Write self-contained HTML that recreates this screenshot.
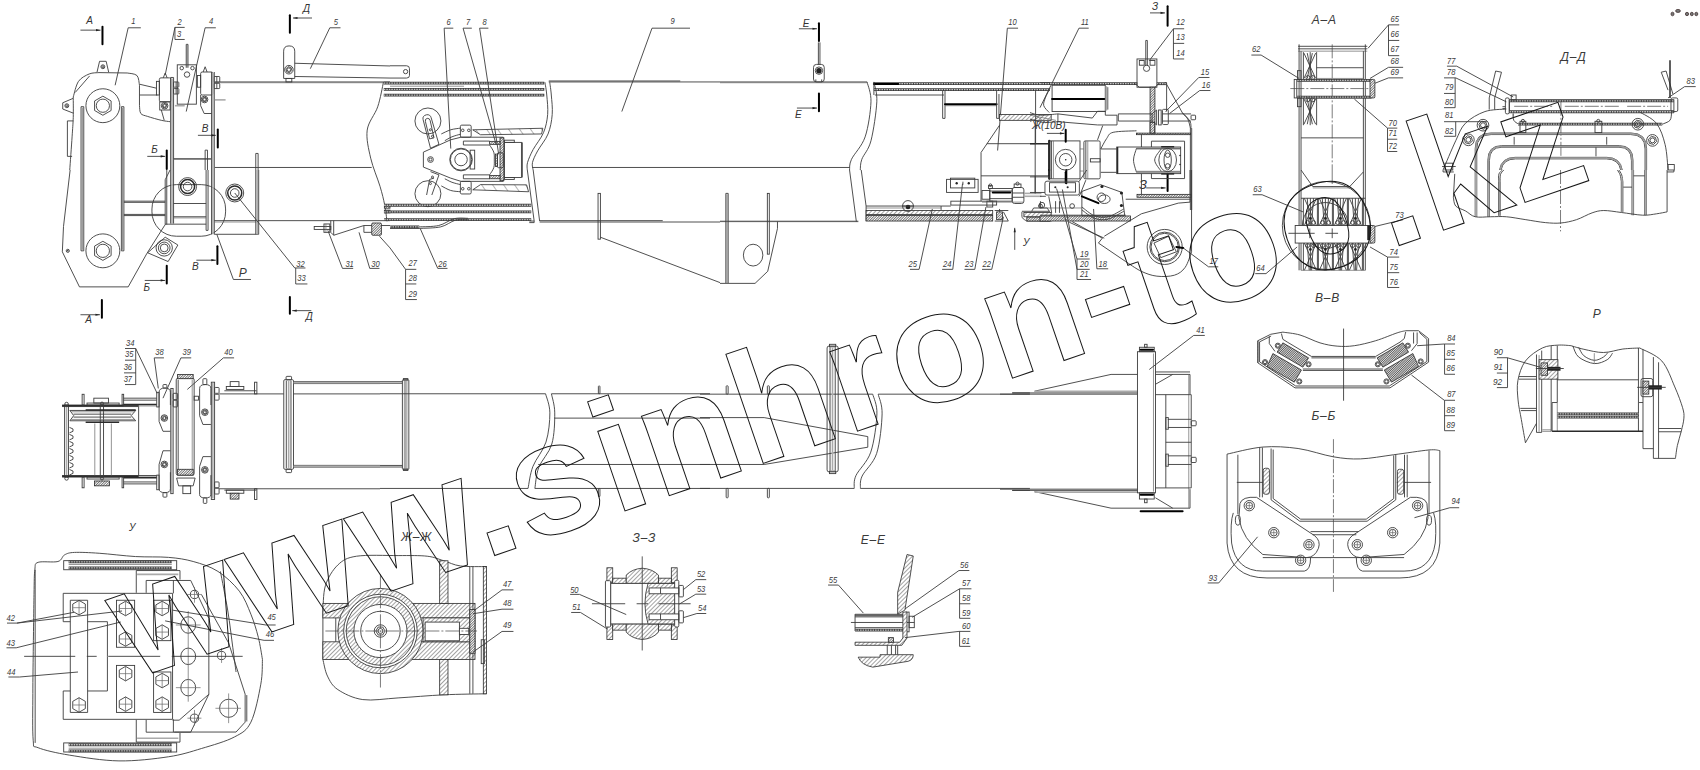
<!DOCTYPE html>
<html><head><meta charset="utf-8"><title>Стрела</title>
<style>
html,body{margin:0;padding:0;background:#fff;}
svg{display:block;}
text{font-family:"Liberation Sans",sans-serif;}
.wm{fill:none;stroke:#141414;stroke-width:1;font-weight:bold;letter-spacing:2.4px;}
.l{fill:none;stroke:#3c3c3c;stroke-width:0.9;}
.m{fill:none;stroke:#2a2a2a;stroke-width:1.5;}
.t{fill:none;stroke:#666;stroke-width:0.7;}
.g{fill:none;stroke:#aaa;stroke-width:1.6;}
.g2{fill:none;stroke:#666;stroke-width:2.6;}
.bo{fill:none;stroke:#3a3a3a;stroke-width:2.8;}
.bi{fill:none;stroke:#c4c4c4;stroke-width:1.3;stroke-dasharray:1.6 0.9;}
.cl{fill:none;stroke:#444;stroke-width:0.7;stroke-dasharray:14 2 2 2;}
.cl2{fill:none;stroke:#333;stroke-width:0.8;}
.dt{fill:#777;stroke:#433;stroke-width:0.8;}
.k{fill:none;stroke:#000;stroke-width:2;stroke-linecap:round;}
.f{fill:#222;stroke:none;}
.w{fill:#fff;stroke:#3c3c3c;stroke-width:0.9;}
.h{fill:url(#ht);stroke:#2a2a2a;stroke-width:0.8;}
.hs{fill:url(#hs);stroke:#2a2a2a;stroke-width:0.8;}
.hx{fill:url(#hx);stroke:#2a2a2a;stroke-width:0.8;}
.g3{fill:none;stroke:#999;stroke-width:1.5;}
.hd{fill:url(#hd);stroke:#2a2a2a;stroke-width:0.8;}
.n{font-size:8.6px;font-style:italic;fill:#3a3a3a;}
.n2{font-size:9.4px;font-style:italic;fill:#3a3a3a;}
.s{font-size:10px;font-style:italic;fill:#333;}
.st{font-size:12px;font-style:italic;fill:#3a3a3a;letter-spacing:0.8px;}
.s2{font-size:13px;font-style:italic;fill:#333;}
</style></head><body>
<svg width="1700" height="770" viewBox="0 0 1700 770">
<defs>
<pattern id="ht" width="3" height="3" patternUnits="userSpaceOnUse" patternTransform="rotate(45)"><rect width="3" height="3" fill="#fff"/><line x1="0" y1="0" x2="0" y2="3" stroke="#333" stroke-width="0.9"/></pattern>
<pattern id="hd" width="1.8" height="1.8" patternUnits="userSpaceOnUse" patternTransform="rotate(45)"><rect width="1.8" height="1.8" fill="#fff"/><line x1="0" y1="0" x2="0" y2="1.8" stroke="#222" stroke-width="1.15"/></pattern>
<pattern id="hs" width="9" height="9" patternUnits="userSpaceOnUse" patternTransform="rotate(-35)"><rect width="9" height="9" fill="#fff"/><line x1="0" y1="0" x2="0" y2="9" stroke="#444" stroke-width="0.8"/></pattern>
<pattern id="hx" width="1.6" height="1.6" patternUnits="userSpaceOnUse" patternTransform="rotate(45)"><rect width="1.6" height="1.6" fill="#ddd"/><line x1="0" y1="0" x2="0" y2="1.6" stroke="#222" stroke-width="1.1"/></pattern>
</defs>
<rect width="1700" height="770" fill="#fff"/>
<text class="s" x="86.3" y="23.9" text-anchor="start">А</text>
<polyline class="l" points="80.45,30.13 100.52,30.13"/>
<polygon class="f" points="100.52,30.13 96.02,31.23 96.02,29.03"/>
<polyline class="k" points="102.47,26.82 102.47,44.35"/>
<text class="n" transform="translate(131.3,24.29) scale(0.88,1)">1</text>
<polyline class="l" points="140.84,27.79 128.18,27.79 115.13,85.26"/>
<text class="n" transform="translate(177.47,24.68) scale(0.88,1)">2</text>
<polyline class="l" points="184.68,27.4 174.94,27.4 165.19,74.94"/>
<polyline class="l" points="174.94,27.4 174.94,39.48 184.68,39.48"/>
<text class="n" transform="translate(176.88,36.56) scale(0.88,1)">3</text>
<text class="n" transform="translate(209.03,24.29) scale(0.88,1)">4</text>
<polyline class="l" points="215.84,27.79 205.13,27.79 186.23,111.56"/>
<text class="n" transform="translate(333.7,24.87) scale(0.88,1)">5</text>
<polyline class="l" points="340.52,27.79 329.81,27.79 310.32,68.7"/>
<polyline class="k" points="289.87,15.13 289.87,32.66"/>
<polyline class="l" points="312.0,18.0 293.0,18.0"/>
<polygon class="f" points="293.0,18.0 297.5,16.9 297.5,19.1"/>
<text class="s" x="303.0" y="12.0" text-anchor="start">Д</text>
<path class="l" d="M69.74,170.0C70.13,164.48 71.50,145.65 72.08,136.88C72.66,128.11 73.06,124.06 73.25,117.4C73.44,110.75 73.25,100.36 73.25,96.95"/>
<path class="l" d="M73.25,96.95C74.13,94.35 75.85,85.19 78.51,81.36C81.17,77.53 85.81,75.42 89.22,73.96C92.63,72.50 97.34,72.83 98.96,72.6"/>
<polyline class="l" points="75.19,92.47 89.61,75.91"/>
<polyline class="l" points="98.96,72.6 127.21,72.99"/>
<path class="l" d="M127.21,72.99C128.83,73.41 134.91,73.47 136.95,75.52C138.99,77.56 139.06,83.64 139.48,85.26"/>
<polyline class="l" points="139.48,85.26 139.48,105.71"/>
<path class="l" d="M139.48,105.71C139.71,107.01 139.48,111.72 140.84,113.51C142.20,115.30 144.25,115.30 147.66,116.43C151.07,117.56 157.57,119.44 161.3,120.32C165.03,121.20 168.60,121.46 170.06,121.69"/>
<polyline class="l" points="97.01,72.21 99.55,61.3 106.17,61.3 108.7,72.21"/>
<circle class="l" cx="102.86" cy="66.75" r="1.95"/>
<circle class="l" cx="102.86" cy="66.75" r="0.97"/>
<polyline class="l" points="73.25,98.31 62.73,102.79 62.73,109.03 73.25,113.12"/>
<circle class="l" cx="66.82" cy="105.71" r="1.95"/>
<circle class="l" cx="66.82" cy="105.71" r="0.97"/>
<circle class="l" cx="102.86" cy="105.71" r="16.95"/>
<polygon class="l" points="111.12,110.49 102.86,115.26 94.59,110.49 94.59,100.94 102.86,96.17 111.12,100.94"/>
<circle class="l" cx="102.86" cy="105.71" r="6.62"/>
<polyline class="l" points="81.04,170.0 81.04,106.69 83.77,106.69 83.77,170.0"/>
<polyline class="t" points="82.4,107.66 82.4,170.0"/>
<polyline class="l" points="121.36,170.0 121.36,106.69 123.9,106.69 123.9,170.0"/>
<polyline class="t" points="122.53,107.66 122.53,170.0"/>
<polyline class="l" points="73.25,120.91 67.4,120.91 67.4,156.36 72.08,156.36"/>
<polyline class="l" points="139.87,84.29 156.43,88.18"/>
<polyline class="l" points="139.87,95.0 157.4,95.0"/>
<rect class="l" x="156.43" y="81.36" width="2.92" height="13.64"/>
<rect class="l" x="159.35" y="77.86" width="11.69" height="23.96" rx="1.56"/>
<polyline class="l" points="163.25,77.86 165.19,72.99 167.14,77.86"/>
<rect class="l" x="159.74" y="101.82" width="10.32" height="8.18"/>
<circle class="l" cx="164.61" cy="105.71" r="3.31"/>
<polygon class="l" points="166.91,106.33 165.23,108.02 162.92,107.4 162.31,105.1 163.99,103.41 166.3,104.03"/>
<circle class="l" cx="164.61" cy="105.71" r="1.39"/>
<polyline class="l" points="161.3,110.0 164.22,120.32"/>
<polyline class="l" points="170.65,77.47 170.65,170.0"/>
<polyline class="l" points="173.57,77.47 173.57,170.0"/>
<polyline class="g" points="172.01,78.44 172.01,170.0"/>
<polyline class="l" points="170.65,77.47 173.57,77.47"/>
<rect class="l" x="173.57" y="81.95" width="5.26" height="5.26" rx="0.78"/>
<rect class="l" x="173.57" y="88.57" width="5.26" height="5.45" rx="0.78"/>
<polyline class="l" points="176.1,81.95 176.1,87.21"/>
<polyline class="l" points="176.1,88.57 176.1,94.03"/>
<rect class="l" x="177.27" y="64.81" width="19.09" height="39.35"/>
<circle class="l" cx="181.75" cy="68.12" r="1.75"/>
<circle class="l" cx="192.47" cy="68.12" r="1.75"/>
<circle class="l" cx="187.01" cy="74.55" r="2.73"/>
<polyline class="l" points="186.23,44.35 186.23,67.73"/>
<polyline class="l" points="187.99,44.35 187.99,67.73"/>
<polyline class="l" points="186.23,44.35 187.99,44.35"/>
<polyline class="t" points="187.01,44.94 187.01,67.73"/>
<polyline class="g" points="174.94,105.71 184.68,105.71"/>
<rect class="l" x="197.34" y="75.52" width="3.31" height="11.69"/>
<rect class="l" x="200.65" y="72.01" width="12.27" height="22.99" rx="1.56"/>
<polyline class="l" points="203.18,72.01 205.13,66.75 207.08,72.01"/>
<circle class="l" cx="204.55" cy="99.48" r="3.31"/>
<polygon class="l" points="206.85,100.1 205.16,101.78 202.86,101.17 202.24,98.86 203.93,97.18 206.23,97.79"/>
<circle class="l" cx="204.55" cy="99.48" r="1.39"/>
<polyline class="l" points="200.65,95.0 200.65,105.71 204.16,113.51 211.56,113.51"/>
<rect class="l" x="213.9" y="76.49" width="5.84" height="5.84" rx="0.78"/>
<rect class="l" x="213.9" y="83.31" width="5.84" height="5.26" rx="0.78"/>
<polyline class="l" points="216.82,76.49 216.82,82.34"/>
<polyline class="l" points="216.82,83.31 216.82,88.57"/>
<polyline class="l" points="211.56,72.01 211.56,170.0"/>
<polyline class="l" points="214.29,72.01 214.29,170.0"/>
<polyline class="g" points="212.92,72.6 212.92,170.0"/>
<polyline class="g" points="214.87,99.87 225.58,99.87"/>
<text class="s" x="201.82" y="132.01" text-anchor="start">В</text>
<polyline class="l" points="197.92,135.32 215.84,135.32"/>
<polygon class="f" points="215.84,135.32 211.34,136.42 211.34,134.22"/>
<polyline class="k" points="217.79,129.48 217.79,147.6"/>
<text class="s" x="151.17" y="153.44" text-anchor="start">Б</text>
<polyline class="l" points="147.27,156.36 165.19,156.36"/>
<polygon class="f" points="165.19,156.36 160.69,157.46 160.69,155.26"/>
<polyline class="k" points="166.75,150.52 166.75,169.03"/>
<polyline class="l" points="214.87,81.95 390.0,81.95"/>
<polyline class="t" points="214.87,82.73 390.0,82.73"/>
<polyline class="l" points="173.57,158.7 210.97,158.7"/>
<polyline class="t" points="173.57,159.48 210.97,159.48"/>
<polyline class="l" points="214.87,167.47 371.69,167.47"/>
<polyline class="l" points="205.13,170.0 205.13,150.13 207.47,150.13 207.47,170.0"/>
<polyline class="l" points="255.78,170.0 255.78,153.44 258.12,153.44 258.12,170.0"/>
<path class="l" d="M 283.64 78.44 L 283.64 51.17 Q 283.64 45.91 289.09 45.91 Q 294.74 45.91 294.74 51.17 L 294.74 78.44 Z"/>
<circle class="l" cx="288.9" cy="69.68" r="4.29"/>
<polygon class="l" points="291.88,70.47 289.69,72.66 286.71,71.86 285.92,68.88 288.1,66.69 291.08,67.49"/>
<circle class="l" cx="288.9" cy="69.68" r="1.8"/>
<rect class="l" x="285.97" y="78.44" width="5.84" height="3.51"/>
<polyline class="l" points="294.74,63.25 390.0,65.97"/>
<polyline class="l" points="294.74,76.49 390.0,78.05"/>
<path class="l" d="M383.5,82.0C382.53,86.13 380.42,98.78 377.7,106.8C374.98,114.82 368.37,121.53 367.2,130.1C366.03,138.67 368.57,148.83 370.7,158.2C372.83,167.57 377.67,178.50 380.0,186.3C382.33,194.10 383.53,199.17 384.7,205.0C385.87,210.83 386.62,218.58 387.0,221.3"/>
<polyline class="l" points="70.13,170.0 63.51,226.49 62.34,251.82 79.48,286.88 128.18,286.88 146.69,253.77 164.81,225.13"/>
<polyline class="l" points="165.19,225.13 165.19,179.74 170.06,170.0"/>
<circle class="l" cx="67.79" cy="250.84" r="1.56"/>
<circle class="f" cx="67.79" cy="250.84" r="0.78"/>
<polyline class="l" points="81.04,170.0 81.04,250.84 83.77,250.84 83.77,170.0"/>
<polyline class="t" points="82.4,170.0 82.4,249.87"/>
<polyline class="l" points="121.36,170.0 121.36,250.84 123.9,250.84 123.9,170.0"/>
<polyline class="t" points="122.53,170.0 122.53,249.87"/>
<circle class="l" cx="102.86" cy="250.84" r="16.95"/>
<polygon class="l" points="111.12,255.62 102.86,260.39 94.59,255.62 94.59,246.07 102.86,241.3 111.12,246.07"/>
<circle class="l" cx="102.86" cy="250.84" r="6.62"/>
<polyline class="l" points="123.9,201.17 165.19,201.17"/>
<polyline class="l" points="123.9,202.34 165.19,202.34"/>
<polyline class="l" points="123.9,214.42 165.19,214.42"/>
<polyline class="l" points="123.9,215.58 165.19,215.58"/>
<rect class="l" x="151.95" y="184.61" width="73.64" height="51.62" rx="24.35"/>
<polyline class="l" points="166.75,170.0 166.75,224.55"/>
<polyline class="l" points="170.65,170.0 170.65,223.57"/>
<polyline class="l" points="173.57,170.0 173.57,223.57"/>
<polyline class="g" points="172.01,170.0 172.01,223.57"/>
<polyline class="l" points="206.1,170.0 206.1,230.39 208.05,230.39 208.05,170.0"/>
<polyline class="l" points="211.56,170.0 211.56,234.29"/>
<polyline class="l" points="214.29,170.0 214.29,234.29"/>
<polyline class="g" points="212.92,170.0 212.92,234.29"/>
<polyline class="l" points="173.57,203.51 206.1,203.51"/>
<polyline class="l" points="173.57,216.75 206.1,216.75"/>
<polyline class="l" points="165.19,224.16 206.1,224.16"/>
<polyline class="t" points="173.57,217.92 206.1,217.92"/>
<circle class="l" cx="187.6" cy="186.56" r="8.96"/>
<circle class="m" cx="187.6" cy="186.56" r="7.01"/>
<circle class="l" cx="187.6" cy="186.56" r="4.29"/>
<circle class="l" cx="234.74" cy="192.99" r="8.96"/>
<circle class="m" cx="234.74" cy="192.99" r="7.01"/>
<circle class="l" cx="234.74" cy="192.99" r="4.29"/>
<polyline class="l" points="214.29,220.65 390.0,220.65"/>
<polyline class="t" points="214.29,222.01 256.75,222.01"/>
<polyline class="l" points="214.29,234.29 258.7,234.29"/>
<polyline class="l" points="255.78,170.0 255.78,234.29"/>
<polyline class="l" points="258.7,170.0 258.7,234.29"/>
<polyline class="g" points="257.14,170.0 257.14,234.29"/>
<polygon class="l" points="147.66,252.79 165.19,237.21 177.86,245.0 168.12,261.56"/>
<circle class="l" cx="164.22" cy="247.92" r="8.18"/>
<circle class="l" cx="164.22" cy="247.92" r="5.84"/>
<circle class="l" cx="164.22" cy="247.92" r="3.9"/>
<text class="s" x="192.08" y="270.32" text-anchor="start">В</text>
<polyline class="l" points="196.36,260.19 215.84,260.19"/>
<polygon class="f" points="215.84,260.19 211.34,261.29 211.34,259.09"/>
<polyline class="k" points="217.4,246.36 217.4,264.09"/>
<text class="s" x="143.38" y="290.78" text-anchor="start">Б</text>
<polyline class="l" points="144.74,280.45 165.19,280.45"/>
<polygon class="f" points="165.19,280.45 160.69,281.55 160.69,279.35"/>
<polyline class="k" points="166.75,265.84 166.75,283.57"/>
<text class="st" x="238.83" y="276.75" text-anchor="start">Р</text>
<polyline class="l" points="250.91,279.48 233.38,279.48 216.82,234.29"/>
<text class="n" transform="translate(296.3,267.01) scale(0.88,1)">32</text>
<polyline class="l" points="305.45,267.99 294.74,267.99 234.74,192.99"/>
<polyline class="l" points="295.71,267.99 295.71,283.96 307.4,283.96"/>
<text class="n" transform="translate(297.27,281.43) scale(0.88,1)">33</text>
<text class="n" transform="translate(345.39,267.01) scale(0.88,1)">31</text>
<polyline class="l" points="353.18,268.38 342.47,268.38 327.86,230.39"/>
<text class="n" transform="translate(371.3,267.01) scale(0.88,1)">30</text>
<polyline class="l" points="379.48,268.38 369.74,268.38 359.03,232.34"/>
<rect class="l" x="314.22" y="226.49" width="16.56" height="2.92"/>
<rect class="l" x="323.96" y="223.96" width="5.84" height="8.38"/>
<polyline class="t" points="325.91,223.96 325.91,232.34"/>
<polyline class="l" points="330.78,220.65 330.78,232.34 333.7,235.26 333.7,220.65"/>
<polyline class="l" points="333.7,235.26 363.9,225.52 390.0,225.52"/>
<polyline class="l" points="363.9,225.52 363.9,232.34 371.69,232.34"/>
<rect class="hd" x="371.69" y="222.99" width="9.74" height="12.27" rx="1.17"/>
<polyline class="l" points="379.48,236.23 390.0,247.92"/>
<polyline class="k" points="101.88,299.94 101.88,317.66"/>
<polyline class="l" points="80.45,314.74 99.94,314.74"/>
<polygon class="f" points="99.94,314.74 95.44,315.84 95.44,313.64"/>
<text class="s" x="85.32" y="322.53" text-anchor="start">А</text>
<polyline class="k" points="289.87,297.01 289.87,313.77"/>
<polyline class="l" points="311.3,310.65 292.21,310.65"/>
<polygon class="f" points="292.21,310.65 296.71,309.55 296.71,311.75"/>
<text class="s" x="305.84" y="319.61" text-anchor="start">Д</text>
<rect class="hd" x="384.35" y="205.06" width="5.65" height="3.12"/>
<rect class="hd" x="384.35" y="210.13" width="5.65" height="2.73"/>
<path class="l" d="M549.74,82.27C550.00,84.39 550.89,89.63 551.3,95.0C551.71,100.37 552.75,107.99 552.21,114.48C551.67,120.97 550.47,127.90 548.05,133.96C545.62,140.02 540.26,146.08 537.66,150.84C535.06,155.60 533.23,159.35 532.47,162.53C531.71,165.71 533.01,168.70 533.12,169.94"/>
<path class="l" d="M544.94,82.27C545.24,84.39 546.30,89.63 546.75,95.0C547.20,100.37 548.20,108.20 547.66,114.48C547.12,120.76 545.93,126.81 543.51,132.66C541.09,138.50 535.78,144.57 533.12,149.55C530.46,154.53 528.50,159.13 527.53,162.53C526.55,165.93 527.31,168.70 527.27,169.94"/>
<circle class="l" cx="427.92" cy="120.97" r="12.99"/>
<path class="l" d="M 423.12 119.68 Q 422.08 115.78 426.62 114.74 Q 430.13 114.22 431.17 117.73 L 438.96 144.35 L 430.52 148.25 Z"/>
<path class="l" d="M 425.45 121.62 Q 424.68 118.77 427.27 118.38 Q 429.61 118.12 430.13 120.45 L 434.03 137.86 L 429.61 138.9 Z"/>
<circle class="l" cx="430.39" cy="129.81" r="1.04"/>
<circle class="l" cx="432.47" cy="136.3" r="1.04"/>
<circle class="l" cx="427.92" cy="193.7" r="12.99"/>
<path class="l" d="M 430.52 171.62 L 438.96 174.87 L 431.82 195.0 M 434.03 178.12 L 429.61 179.42 L 426.62 195.0"/>
<circle class="l" cx="432.47" cy="177.08" r="1.04"/>
<circle class="l" cx="430.39" cy="183.57" r="1.04"/>
<polygon class="l" points="423.38,152.14 450.65,139.81 461.04,137.21 503.25,137.21 503.25,181.36 461.04,181.36 450.65,178.12 423.38,167.08"/>
<circle class="l" cx="430.52" cy="159.55" r="2.86"/>
<circle class="l" cx="430.52" cy="159.55" r="1.43"/>
<rect class="l" x="460.39" y="125.13" width="10.78" height="12.08" rx="1.3"/>
<circle class="l" cx="462.73" cy="130.32" r="1.3"/>
<circle class="l" cx="468.83" cy="130.32" r="1.3"/>
<rect class="l" x="460.39" y="181.36" width="10.78" height="12.6" rx="1.3"/>
<circle class="l" cx="462.73" cy="188.77" r="1.3"/>
<circle class="l" cx="468.83" cy="188.77" r="1.3"/>
<path class="l" d="M441.3,133.96C442.86,133.27 447.47,130.78 450.65,129.81C453.83,128.84 458.77,128.40 460.39,128.12"/>
<path class="l" d="M444.81,140.71C446.00,140.06 449.35,137.90 451.95,136.82C454.55,135.74 458.98,134.65 460.39,134.22"/>
<path class="l" d="M441.3,185.91C442.86,186.67 447.47,189.48 450.65,190.45C453.83,191.42 458.77,191.53 460.39,191.75"/>
<path class="l" d="M444.81,178.77C446.00,179.35 449.35,181.30 451.95,182.27C454.55,183.24 458.98,184.22 460.39,184.61"/>
<polygon class="hs" points="472.73,129.81 542.86,128.25 541.56,133.96 480.52,134.74"/>
<polygon class="hs" points="472.73,189.81 528.57,191.75 526.62,184.87 480.52,184.61"/>
<circle class="l" cx="461.04" cy="159.55" r="11.3"/>
<circle class="l" cx="461.04" cy="159.55" r="10.65"/>
<circle class="l" cx="461.04" cy="159.55" r="6.23"/>
<rect class="l" x="470.13" y="150.19" width="4.55" height="18.83"/>
<polyline class="l" points="489.61,141.1 463.38,141.1 463.38,145.0 489.61,145.0"/>
<polyline class="l" points="489.61,174.87 463.38,174.87 463.38,178.77 489.61,178.77"/>
<path class="l" d="M489.61,145.0C490.30,146.19 492.99,149.65 493.77,152.14C494.55,154.63 494.29,157.34 494.29,159.94C494.29,162.54 494.55,165.24 493.77,167.73C492.99,170.22 490.30,173.68 489.61,174.87"/>
<rect class="hd" x="500.0" y="137.86" width="3.9" height="42.86"/>
<rect class="hd" x="489.61" y="141.36" width="10.39" height="2.99"/>
<rect class="hd" x="489.61" y="175.52" width="10.39" height="3.25"/>
<rect class="l" x="504.55" y="142.4" width="16.88" height="35.06"/>
<polyline class="l" points="522.34,142.4 522.34,177.47"/>
<rect class="l" x="504.55" y="140.19" width="9.74" height="2.21"/>
<rect class="l" x="504.55" y="177.47" width="9.74" height="1.95"/>
<rect class="l" x="497.4" y="152.79" width="5.84" height="14.94" rx="1.3"/>
<rect class="hd" x="495.58" y="154.09" width="1.82" height="12.34"/>
<path class="l" d="M 390.0 65.78 L 406.56 65.78 Q 409.48 65.78 409.48 68.7 L 409.48 75.52 Q 409.48 78.05 406.56 78.05 L 390.0 78.05"/>
<circle class="l" cx="405.58" cy="71.62" r="2.14"/>
<polyline class="bo" points="383.77,83.12 544.29,83.12"/>
<polyline class="bi" points="383.77,83.12 544.29,83.12"/>
<polyline class="bo" points="383.77,89.35 544.29,89.35"/>
<polyline class="bi" points="383.77,89.35 544.29,89.35"/>
<polyline class="bo" points="383.77,95.19 544.29,95.19"/>
<polyline class="bi" points="383.77,95.19 544.29,95.19"/>
<polyline class="t" points="390.0,86.23 464.03,86.23"/>
<text class="n" transform="translate(446.49,24.87) scale(0.88,1)">6</text>
<polyline class="l" points="453.31,28.18 444.16,28.18 450.78,148.57"/>
<text class="n" transform="translate(465.97,24.87) scale(0.88,1)">7</text>
<polyline class="l" points="471.82,28.18 463.05,28.18 496.17,144.68"/>
<text class="n" transform="translate(482.53,24.87) scale(0.88,1)">8</text>
<polyline class="l" points="488.38,28.18 479.61,28.18 498.7,154.42"/>
<text class="n" transform="translate(670.52,23.9) scale(0.88,1)">9</text>
<polyline class="l" points="690.0,28.18 652.01,28.18 621.82,111.56"/>
<polyline class="l" points="548.77,80.97 680.26,80.97"/>
<polyline class="l" points="548.77,81.95 720.0,81.95"/>
<polyline class="l" points="532.21,167.47 720.0,167.47"/>
<polyline class="bo" points="384.16,205.26 531.23,205.26"/>
<polyline class="bi" points="384.16,205.26 531.23,205.26"/>
<polyline class="bo" points="384.16,211.88 531.23,211.88"/>
<polyline class="bi" points="384.16,211.88 531.23,211.88"/>
<polyline class="bo" points="384.16,219.68 531.23,219.68"/>
<polyline class="bi" points="384.16,219.68 531.23,219.68"/>
<polyline class="bo" points="390.0,226.88 419.22,226.88"/>
<polyline class="bi" points="390.0,226.88 419.22,226.88"/>
<path class="l" d="M419.22,226.88C422.47,226.65 432.86,226.88 438.7,225.52C444.54,224.16 449.42,219.90 454.29,218.7C459.16,217.50 465.65,218.38 467.92,218.31"/>
<polyline class="l" points="390.0,228.44 419.22,228.44"/>
<path class="l" d="M419.22,228.44C422.79,228.18 434.64,228.24 440.65,226.88C446.66,225.52 450.71,221.46 455.26,220.26C459.81,219.06 465.81,219.78 467.92,219.68"/>
<polyline class="l" points="529.29,221.04 534.16,221.04 534.16,222.6 529.29,222.6"/>
<polyline class="l" points="527.34,170.0 534.16,221.04"/>
<polyline class="l" points="533.18,170.0 539.61,221.04"/>
<polyline class="l" points="539.61,220.65 662.73,220.65"/>
<polyline class="l" points="539.61,222.01 720.0,222.01"/>
<rect class="l" x="598.05" y="193.38" width="2.34" height="45.78"/>
<polyline class="l" points="600.39,237.21 720.0,282.6"/>
<text class="n" transform="translate(408.51,266.43) scale(0.88,1)">27</text>
<polyline class="l" points="416.3,269.35 405.58,269.35 390.0,247.92"/>
<polyline class="l" points="405.58,269.35 405.58,299.55 416.88,299.55"/>
<polyline class="l" points="405.58,283.96 416.3,283.96"/>
<text class="n" transform="translate(408.51,281.43) scale(0.88,1)">28</text>
<text class="n" transform="translate(408.51,296.62) scale(0.88,1)">29</text>
<text class="n" transform="translate(438.31,266.82) scale(0.88,1)">26</text>
<polyline class="l" points="447.47,268.38 437.73,268.38 420.19,228.44"/>
<polyline class="l" points="720.0,81.95 867.08,81.95"/>
<polyline class="t" points="720.0,82.73 867.08,82.73"/>
<text class="s" x="802.79" y="26.82" text-anchor="start">Е</text>
<polyline class="l" points="798.9,28.77 817.01,28.77"/>
<polygon class="f" points="817.01,28.77 812.51,29.87 812.51,27.67"/>
<polyline class="k" points="818.96,23.31 818.96,41.04"/>
<polyline class="l" points="818.38,42.4 818.38,64.81"/>
<polyline class="l" points="819.94,42.4 819.94,64.81"/>
<rect class="l" x="813.51" y="64.42" width="10.71" height="17.53" rx="2.92"/>
<circle class="f" cx="818.96" cy="70.65" r="2.73"/>
<circle class="l" cx="818.96" cy="70.65" r="3.7"/>
<polyline class="l" points="815.84,79.42 815.84,81.95"/>
<polyline class="l" points="821.69,79.42 821.69,81.95"/>
<polyline class="k" points="818.96,93.44 818.96,111.17"/>
<polyline class="l" points="796.95,108.05 817.01,108.05"/>
<polygon class="f" points="817.01,108.05 812.51,109.15 812.51,106.95"/>
<text class="s" x="795.0" y="118.38" text-anchor="start">Е</text>
<path class="l" d="M867.08,81.95C867.73,85.26 871.30,92.66 870.97,101.82C870.64,110.97 868.38,127.30 865.13,136.88C861.88,146.46 854.09,153.77 851.49,159.29C848.89,164.81 849.87,168.22 849.55,170.0"/>
<path class="l" d="M873.9,81.95C874.39,85.26 877.31,92.01 876.82,101.82C876.33,111.62 873.47,131.20 870.97,140.78C868.47,150.36 863.61,154.42 861.82,159.29C860.04,164.16 860.52,168.22 860.26,170.0"/>
<polyline class="l" points="720.0,167.47 849.55,167.47"/>
<polyline class="bo" points="873.9,83.7 1050.0,83.7"/>
<polyline class="bi" points="873.9,83.7 1050.0,83.7"/>
<polyline class="k" points="873.9,83.9 898.25,83.9"/>
<polyline class="bo" points="873.9,89.55 1050.0,89.55"/>
<polyline class="bi" points="873.9,89.55 1050.0,89.55"/>
<polyline class="l" points="874.87,95.0 944.03,95.0"/>
<polyline class="l" points="873.9,81.95 873.9,95.0"/>
<polyline class="l" points="942.66,90.52 942.66,118.38 945.0,118.38 945.0,90.52"/>
<polyline class="k" points="945.0,104.16 996.62,104.16"/>
<polyline class="t" points="945.0,105.71 996.62,105.71"/>
<polyline class="l" points="996.62,90.52 996.62,118.38 998.96,118.38 998.96,94.03"/>
<text class="n" transform="translate(1008.31,24.87) scale(0.88,1)">10</text>
<polyline class="l" points="1018.05,28.18 1007.34,28.18 997.6,150.52"/>
<rect class="h" x="999.55" y="114.48" width="51.62" height="5.84"/>
<polyline class="l" points="999.55,125.19 981.04,152.47 981.04,170.0"/>
<polyline class="l" points="986.88,143.7 1035.58,143.7"/>
<polyline class="l" points="1035.58,90.52 1035.58,143.7"/>
<polyline class="k" points="1049.22,140.78 1049.22,170.0"/>
<path class="l" d="M1050.0,88.18C1049.22,89.80 1046.36,95.00 1045.32,97.92C1044.28,100.84 1043.12,103.27 1043.77,105.71C1044.42,108.14 1048.31,111.39 1049.22,112.53"/>
<polyline class="l" points="720.0,221.62 858.31,221.62"/>
<polyline class="t" points="720.0,221.04 858.31,221.04"/>
<polyline class="l" points="725.84,193.38 725.84,282.99"/>
<polyline class="l" points="728.18,193.38 728.18,282.99"/>
<polyline class="l" points="725.84,193.38 728.18,193.38"/>
<polyline class="t" points="727.01,194.35 727.01,282.99"/>
<rect class="l" x="767.34" y="193.38" width="1.95" height="60.78"/>
<polyline class="l" points="720.0,283.38 755.06,283.38 767.73,271.3 777.47,228.44 777.47,221.62"/>
<ellipse class="l" cx="753.12" cy="255.13" rx="9.74" ry="10.91"/>
<polyline class="l" points="849.55,170.0 856.36,221.62"/>
<polyline class="l" points="861.23,170.0 866.1,206.04"/>
<polyline class="l" points="866.1,206.04 941.1,206.04 941.1,209.94"/>
<polyline class="t" points="866.1,207.99 941.1,207.99"/>
<polyline class="l" points="866.1,206.04 866.1,221.04"/>
<polyline class="l" points="941.1,206.04 950.84,206.04"/>
<rect class="l" x="950.84" y="201.17" width="45.78" height="3.9"/>
<rect class="h" x="866.1" y="210.52" width="126.62" height="3.9"/>
<rect class="hd" x="866.1" y="215.39" width="126.62" height="5.65"/>
<circle class="l" cx="907.99" cy="206.04" r="5.45"/>
<circle class="f" cx="907.99" cy="207.01" r="2.34"/>
<polyline class="l" points="902.14,206.04 913.83,206.04"/>
<rect class="l" x="946.56" y="179.35" width="31.56" height="13.05"/>
<rect class="l" x="950.45" y="178.18" width="24.35" height="9.74"/>
<circle class="f" cx="956.69" cy="183.25" r="1.17"/>
<circle class="f" cx="968.77" cy="183.25" r="1.17"/>
<polyline class="l" points="962.92,181.69 962.92,184.81"/>
<rect class="l" x="982.01" y="190.45" width="7.79" height="8.77"/>
<rect class="l" x="989.81" y="188.51" width="22.4" height="12.66"/>
<polyline class="l" points="989.81,191.04 1012.21,191.04"/>
<polyline class="l" points="989.81,198.64 1012.21,198.64"/>
<polyline class="k" points="992.73,192.4 1010.26,192.4"/>
<rect class="l" x="1012.21" y="187.53" width="11.69" height="15.97" rx="2.34"/>
<polyline class="l" points="1012.21,192.99 1023.9,192.99"/>
<polyline class="l" points="1012.21,197.27 1023.9,197.27"/>
<rect class="l" x="988.44" y="185.58" width="3.9" height="2.92"/>
<circle class="l" cx="990.39" cy="185.19" r="1.36"/>
<rect class="l" x="1014.16" y="184.03" width="6.82" height="3.51"/>
<circle class="l" cx="1017.47" cy="183.64" r="1.56"/>
<rect class="l" x="986.88" y="201.17" width="5.84" height="5.84"/>
<polyline class="t" points="982.01,202.14 1023.9,202.14"/>
<polyline class="g" points="1023.9,193.38 1041.43,193.38"/>
<polyline class="g" points="1023.9,196.3 1041.43,196.3"/>
<rect class="hd" x="996.62" y="211.88" width="5.84" height="7.79"/>
<polyline class="l" points="999.55,208.96 999.55,211.88"/>
<polyline class="l" points="994.68,210.52 1008.31,210.52"/>
<polyline class="l" points="1003.44,211.88 1008.31,221.04 994.68,221.04"/>
<path class="l" d="M1021.95,211.88C1022.02,212.85 1021.53,216.20 1022.34,217.73C1023.15,219.26 1026.07,220.49 1026.82,221.04"/>
<polyline class="l" points="1021.95,211.3 1050.0,211.3"/>
<polyline class="l" points="1026.82,221.04 1050.0,221.04"/>
<rect class="h" x="1023.9" y="212.47" width="27.27" height="4.29"/>
<rect class="hd" x="1026.82" y="217.14" width="24.35" height="3.9"/>
<path class="l" d="M 1031.69 211.3 L 1033.64 207.99 L 1047.27 207.99 L 1049.22 211.3"/>
<circle class="l" cx="1040.45" cy="206.04" r="1.95"/>
<polyline class="l" points="1040.45,201.17 1040.45,207.99"/>
<text class="n" transform="translate(908.57,267.4) scale(0.88,1)">25</text>
<polyline class="l" points="909.94,269.35 919.09,269.35 932.34,208.96"/>
<text class="n" transform="translate(943.05,267.4) scale(0.88,1)">24</text>
<polyline class="l" points="942.08,269.35 952.79,269.35 962.53,183.64"/>
<text class="n" transform="translate(965.06,267.4) scale(0.88,1)">23</text>
<polyline class="l" points="964.48,269.35 974.81,269.35 985.91,207.01"/>
<text class="n" transform="translate(982.6,267.4) scale(0.88,1)">22</text>
<polyline class="l" points="982.01,269.35 991.75,269.35 1003.44,216.75"/>
<polyline class="l" points="1014.74,249.87 1014.74,227.86"/>
<polygon class="f" points="1014.74,227.86 1015.84,232.36 1013.64,232.36"/>
<text class="s" x="1022.92" y="246.36" text-anchor="start">У</text>
<polyline class="l" points="981.04,170.0 981.04,201.17"/>
<polyline class="l" points="981.04,175.84 1050.0,175.84"/>
<polyline class="l" points="1035.19,175.84 1035.19,193.38"/>
<polyline class="k" points="1049.22,170.0 1049.22,178.77"/>
<text class="n" transform="translate(1080.91,24.87) scale(0.88,1)">11</text>
<polyline class="l" points="1088.7,28.18 1078.96,28.18 1040.0,107.66"/>
<polyline class="bo" points="1040.0,83.7 1137.4,83.7"/>
<polyline class="bi" points="1040.0,83.7 1137.4,83.7"/>
<polyline class="bo" points="1156.88,83.7 1166.62,83.7"/>
<polyline class="bi" points="1156.88,83.7 1166.62,83.7"/>
<rect class="l" x="1137.01" y="58.96" width="19.87" height="28.25"/>
<polyline class="l" points="1134.48,83.31 1139.35,87.21 1154.94,87.21 1159.22,83.31"/>
<rect class="l" x="1139.35" y="60.52" width="4.87" height="4.68"/>
<rect class="l" x="1150.06" y="60.52" width="4.87" height="4.68"/>
<circle class="w" cx="1146.56" cy="68.31" r="3.12"/>
<polyline class="l" points="1145.78,65.78 1145.78,40.45 1147.34,40.45 1147.34,65.78"/>
<polyline class="k" points="1167.6,6.36 1167.6,25.84"/>
<polyline class="l" points="1150.0,12.9 1165.0,12.9"/>
<polygon class="f" points="1165.0,12.9 1160.5,14.0 1160.5,11.8"/>
<text class="s" x="1152.0" y="10.0" text-anchor="start">З</text>
<text class="n" transform="translate(1176.36,24.87) scale(0.88,1)">12</text>
<polyline class="l" points="1184.16,28.77 1173.44,28.77 1173.44,58.96 1184.16,58.96"/>
<polyline class="l" points="1173.44,43.38 1184.16,43.38"/>
<text class="n" transform="translate(1176.36,40.45) scale(0.88,1)">13</text>
<text class="n" transform="translate(1176.36,56.04) scale(0.88,1)">14</text>
<polyline class="l" points="1173.44,28.77 1149.09,60.91"/>
<text class="n" transform="translate(1200.71,74.55) scale(0.88,1)">15</text>
<polyline class="l" points="1209.48,77.47 1198.77,77.47 1165.65,111.56"/>
<text class="n" transform="translate(1201.69,87.79) scale(0.88,1)">16</text>
<polyline class="l" points="1210.45,90.52 1199.74,90.52 1169.55,113.51"/>
<rect class="l" x="1052.08" y="85.26" width="53.18" height="26.3"/>
<polyline class="k" points="1052.08,98.9 1104.29,98.9"/>
<polyline class="l" points="1107.79,87.21 1107.79,109.61"/>
<polyline class="g" points="1106.43,86.23 1106.43,110.58"/>
<rect class="hd" x="1150.06" y="87.21" width="4.87" height="45.78"/>
<polyline class="l" points="1164.68,82.73 1166.62,82.73 1166.62,111.56"/>
<polyline class="l" points="1166.62,84.29 1182.21,112.53"/>
<path class="l" d="M1182.21,112.53C1183.51,113.99 1188.54,118.54 1190.0,121.3C1191.46,124.06 1190.81,127.79 1190.97,129.09"/>
<text class="st" x="1311.75" y="24.29" text-anchor="start">А–А</text>
<text class="n" transform="translate(1251.95,52.14) scale(0.88,1)">62</text>
<polyline class="l" points="1251.36,55.06 1261.1,55.06 1299.09,78.44"/>
<polyline class="l" points="1298.12,46.3 1367.27,46.3"/>
<polyline class="t" points="1298.12,51.17 1367.27,51.17"/>
<polyline class="l" points="1298.12,48.83 1367.27,48.83"/>
<polyline class="l" points="1299.09,44.35 1299.09,170.0"/>
<polyline class="l" points="1301.04,51.17 1301.04,170.0"/>
<polyline class="l" points="1363.38,51.17 1363.38,170.0"/>
<polyline class="l" points="1365.32,44.35 1365.32,170.0"/>
<polyline class="cl" points="1332.21,44.35 1332.21,170.0"/>
<rect class="l" x="1294.22" y="79.42" width="76.95" height="18.51"/>
<polyline class="bo" points="1297.14,80.39 1371.17,80.39"/>
<polyline class="bi" points="1297.14,80.39 1371.17,80.39"/>
<polyline class="bo" points="1297.14,97.14 1371.17,97.14"/>
<polyline class="bi" points="1297.14,97.14 1371.17,97.14"/>
<polyline class="cl" points="1290.32,88.57 1370.0,88.57"/>
<polyline class="l" points="1296.75,79.42 1296.75,97.92"/>
<polyline class="l" points="1303.38,52.14 1303.38,79.42"/>
<polyline class="l" points="1316.62,52.14 1316.62,79.42"/>
<polyline class="l" points="1303.96,53.12 1315.65,78.44"/>
<polyline class="l" points="1315.65,53.12 1303.96,78.44"/>
<polyline class="l" points="1307.27,53.12 1312.34,78.44"/>
<polyline class="l" points="1312.34,53.12 1307.27,78.44"/>
<polyline class="l" points="1310.19,52.14 1310.19,79.42"/>
<polyline class="l" points="1303.38,97.92 1303.38,125.19"/>
<polyline class="l" points="1316.62,97.92 1316.62,125.19"/>
<polyline class="l" points="1303.96,98.9 1315.65,124.22"/>
<polyline class="l" points="1315.65,98.9 1303.96,124.22"/>
<polyline class="l" points="1307.27,98.9 1312.34,124.22"/>
<polyline class="l" points="1312.34,98.9 1307.27,124.22"/>
<polyline class="l" points="1310.19,97.92 1310.19,125.19"/>
<circle class="l" cx="1307.86" cy="77.47" r="1.95"/>
<circle class="l" cx="1312.73" cy="77.47" r="1.95"/>
<circle class="l" cx="1307.86" cy="99.87" r="1.95"/>
<circle class="l" cx="1312.73" cy="99.87" r="1.95"/>
<polyline class="l" points="1316.62,67.73 1363.38,67.73"/>
<polyline class="t" points="1316.62,78.44 1363.38,78.44"/>
<polyline class="l" points="1301.04,137.86 1363.38,137.86"/>
<rect class="l" x="1297.53" y="70.65" width="3.51" height="8.77"/>
<rect class="l" x="1297.53" y="97.92" width="3.51" height="8.77"/>
<polyline class="l" points="1190.0,170.0 1190.0,202.14"/>
<polyline class="l" points="1191.56,170.0 1191.56,251.82"/>
<rect class="hd" x="1137.01" y="194.35" width="53.96" height="2.92"/>
<polyline class="l" points="1125.71,199.22 1190.97,199.22"/>
<text class="s2" x="1138.96" y="188.9" text-anchor="start">З</text>
<polyline class="l" points="1146.17,187.92 1165.65,187.92"/>
<polygon class="f" points="1165.65,187.92 1161.15,189.02 1161.15,186.82"/>
<polyline class="k" points="1167.6,174.29 1167.6,191.04"/>
<rect class="hd" x="1040.0" y="215.97" width="90.58" height="5.06"/>
<polyline class="l" points="1040.0,215.19 1125.71,215.19"/>
<polyline class="l" points="1069.22,222.21 1104.29,238.18"/>
<polyline class="l" points="1104.29,236.23 1141.3,213.83 1178.31,203.12 1190.0,202.14"/>
<polyline class="l" points="1098.44,243.05 1125.71,261.56"/>
<path class="l" d="M1125.71,261.56C1128.31,263.18 1136.11,268.87 1141.3,271.3C1146.49,273.74 1151.36,275.52 1156.88,276.17C1162.40,276.82 1169.71,276.65 1174.42,275.19C1179.13,273.73 1182.27,271.29 1185.13,267.4C1187.99,263.50 1190.49,254.42 1191.56,251.82"/>
<polyline class="l" points="1102.34,238.18 1098.44,243.05"/>
<polyline class="l" points="1072.14,221.62 1102.34,238.18"/>
<circle class="l" cx="1164.68" cy="246.95" r="17.53"/>
<circle class="l" cx="1164.68" cy="246.95" r="14.81"/>
<circle class="l" cx="1164.68" cy="246.95" r="13.64"/>
<polygon class="l" points="1153.96,243.05 1168.57,236.23 1176.36,251.82 1160.78,257.66"/>
<polyline class="k" points="1176.36,246.95 1183.18,247.92"/>
<text class="n" transform="translate(1209.48,264.48) scale(0.88,1)">17</text>
<polyline class="l" points="1218.25,266.82 1208.51,266.82 1183.18,247.92"/>
<text class="n" transform="translate(1079.94,256.69) scale(0.88,1)">19</text>
<polyline class="l" points="1089.68,259.03 1077.01,259.03 1077.01,279.48 1091.04,279.48"/>
<polyline class="l" points="1077.01,269.35 1089.68,269.35"/>
<text class="n" transform="translate(1079.94,267.01) scale(0.88,1)">20</text>
<text class="n" transform="translate(1079.94,277.14) scale(0.88,1)">21</text>
<polyline class="l" points="1077.01,259.03 1056.56,188.51"/>
<polyline class="l" points="1077.01,269.35 1062.4,189.48"/>
<text class="n" transform="translate(1098.44,267.01) scale(0.88,1)">18</text>
<polyline class="l" points="1108.18,268.77 1096.88,268.77 1093.57,208.96"/>
<polyline class="k" points="1066.3,170.0 1066.3,183.25"/>
<polygon class="l" points="1081.88,191.43 1100.39,184.61 1121.82,192.4 1124.74,215.78 1081.88,215.78"/>
<circle class="f" cx="1101.95" cy="186.56" r="1.56"/>
<circle class="f" cx="1121.43" cy="192.99" r="1.56"/>
<circle class="f" cx="1121.43" cy="205.45" r="1.56"/>
<circle class="l" cx="1101.36" cy="197.27" r="4.29"/>
<ellipse class="l" cx="1104.29" cy="199.22" rx="5.84" ry="4.29"/>
<polyline class="k" points="1081.88,196.3 1098.44,203.12"/>
<path class="l" d="M1081.88,207.01C1083.99,208.47 1090.17,214.16 1094.55,215.78C1098.93,217.40 1103.31,217.89 1108.18,216.75C1113.05,215.61 1121.17,210.26 1123.77,208.96"/>
<path class="l" d="M1081.88,209.94C1083.99,211.34 1090.17,216.78 1094.55,218.31C1098.93,219.84 1103.31,220.26 1108.18,219.09C1113.05,217.92 1121.17,212.60 1123.77,211.3"/>
<polyline class="l" points="1040.0,196.3 1045.84,196.3"/>
<polyline class="t" points="1040.0,207.99 1081.88,207.99"/>
<polyline class="l" points="1048.77,196.3 1051.69,212.86"/>
<polyline class="l" points="1078.96,196.3 1081.88,191.43"/>
<polyline class="l" points="1078.96,181.69 1086.75,170.0"/>
<circle class="l" cx="1041.95" cy="205.06" r="2.73"/>
<circle class="l" cx="1072.14" cy="206.04" r="2.34"/>
<polyline class="l" points="1055.58,201.17 1055.58,212.86"/>
<polyline class="l" points="1059.48,201.17 1059.48,212.86"/>
<text class="n" transform="translate(1253.31,192.4) scale(0.88,1)">63</text>
<polyline class="l" points="1252.73,194.74 1262.08,194.74 1302.99,211.88"/>
<text class="n" transform="translate(1256.23,271.3) scale(0.88,1)">64</text>
<polyline class="l" points="1255.26,273.64 1265.97,273.64 1297.14,246.95"/>
<circle class="l" cx="1326.36" cy="225.52" r="44.03"/>
<circle class="l" cx="1325.39" cy="225.52" r="22.99"/>
<text class="st" x="1315.06" y="302.08" text-anchor="start">В–В</text>
<polyline class="l" points="1299.09,170.0 1299.09,270.32"/>
<polyline class="l" points="1301.04,170.0 1301.04,270.32"/>
<polyline class="l" points="1363.38,170.0 1363.38,270.32"/>
<polyline class="l" points="1365.32,170.0 1365.32,270.32"/>
<polyline class="l" points="1301.04,170.0 1312.73,186.56 1349.74,186.56 1363.38,171.95"/>
<polyline class="t" points="1312.73,187.92 1349.74,187.92"/>
<polyline class="cl" points="1332.21,170.0 1332.21,186.56"/>
<rect class="w" x="1295.19" y="225.52" width="75.97" height="17.53"/>
<polyline class="l" points="1288.38,233.31 1314.68,233.31"/>
<polyline class="l" points="1325.39,233.31 1338.05,233.31"/>
<polyline class="l" points="1309.81,228.44 1309.81,238.18"/>
<polyline class="l" points="1332.21,228.44 1332.21,238.18"/>
<polyline class="l" points="1303.38,198.25 1303.38,225.52"/>
<polyline class="l" points="1317.4,198.25 1317.4,225.52"/>
<polyline class="l" points="1310.39,198.25 1310.39,225.52"/>
<polyline class="l" points="1304.35,198.25 1310.39,211.88 1316.43,198.25"/>
<polyline class="l" points="1304.35,225.52 1310.39,211.88 1316.43,225.52"/>
<polyline class="l" points="1307.27,198.25 1309.22,225.52"/>
<polyline class="l" points="1313.51,198.25 1311.56,225.52"/>
<polyline class="l" points="1303.38,243.05 1303.38,270.32"/>
<polyline class="l" points="1317.4,243.05 1317.4,270.32"/>
<polyline class="l" points="1310.39,243.05 1310.39,270.32"/>
<polyline class="l" points="1304.35,243.05 1310.39,256.69 1316.43,243.05"/>
<polyline class="l" points="1304.35,270.32 1310.39,256.69 1316.43,270.32"/>
<polyline class="l" points="1307.27,243.05 1309.22,270.32"/>
<polyline class="l" points="1313.51,243.05 1311.56,270.32"/>
<circle class="l" cx="1307.66" cy="222.6" r="1.95"/>
<circle class="l" cx="1313.51" cy="222.6" r="1.95"/>
<circle class="l" cx="1307.66" cy="245.58" r="1.95"/>
<circle class="l" cx="1313.51" cy="245.58" r="1.95"/>
<circle class="f" cx="1310.39" cy="218.31" r="1.36"/>
<circle class="f" cx="1310.39" cy="249.48" r="1.36"/>
<polyline class="l" points="1318.38,198.25 1318.38,225.52"/>
<polyline class="l" points="1332.4,198.25 1332.4,225.52"/>
<polyline class="l" points="1325.39,198.25 1325.39,225.52"/>
<polyline class="l" points="1319.35,198.25 1325.39,211.88 1331.43,198.25"/>
<polyline class="l" points="1319.35,225.52 1325.39,211.88 1331.43,225.52"/>
<polyline class="l" points="1322.27,198.25 1324.22,225.52"/>
<polyline class="l" points="1328.51,198.25 1326.56,225.52"/>
<polyline class="l" points="1318.38,243.05 1318.38,270.32"/>
<polyline class="l" points="1332.4,243.05 1332.4,270.32"/>
<polyline class="l" points="1325.39,243.05 1325.39,270.32"/>
<polyline class="l" points="1319.35,243.05 1325.39,256.69 1331.43,243.05"/>
<polyline class="l" points="1319.35,270.32 1325.39,256.69 1331.43,270.32"/>
<polyline class="l" points="1322.27,243.05 1324.22,270.32"/>
<polyline class="l" points="1328.51,243.05 1326.56,270.32"/>
<circle class="l" cx="1322.66" cy="222.6" r="1.95"/>
<circle class="l" cx="1328.51" cy="222.6" r="1.95"/>
<circle class="l" cx="1322.66" cy="245.58" r="1.95"/>
<circle class="l" cx="1328.51" cy="245.58" r="1.95"/>
<circle class="f" cx="1325.39" cy="218.31" r="1.36"/>
<circle class="f" cx="1325.39" cy="249.48" r="1.36"/>
<polyline class="l" points="1333.38,198.25 1333.38,225.52"/>
<polyline class="l" points="1347.4,198.25 1347.4,225.52"/>
<polyline class="l" points="1340.39,198.25 1340.39,225.52"/>
<polyline class="l" points="1334.35,198.25 1340.39,211.88 1346.43,198.25"/>
<polyline class="l" points="1334.35,225.52 1340.39,211.88 1346.43,225.52"/>
<polyline class="l" points="1337.27,198.25 1339.22,225.52"/>
<polyline class="l" points="1343.51,198.25 1341.56,225.52"/>
<polyline class="l" points="1333.38,243.05 1333.38,270.32"/>
<polyline class="l" points="1347.4,243.05 1347.4,270.32"/>
<polyline class="l" points="1340.39,243.05 1340.39,270.32"/>
<polyline class="l" points="1334.35,243.05 1340.39,256.69 1346.43,243.05"/>
<polyline class="l" points="1334.35,270.32 1340.39,256.69 1346.43,270.32"/>
<polyline class="l" points="1337.27,243.05 1339.22,270.32"/>
<polyline class="l" points="1343.51,243.05 1341.56,270.32"/>
<circle class="l" cx="1337.66" cy="222.6" r="1.95"/>
<circle class="l" cx="1343.51" cy="222.6" r="1.95"/>
<circle class="l" cx="1337.66" cy="245.58" r="1.95"/>
<circle class="l" cx="1343.51" cy="245.58" r="1.95"/>
<circle class="f" cx="1340.39" cy="218.31" r="1.36"/>
<circle class="f" cx="1340.39" cy="249.48" r="1.36"/>
<polyline class="l" points="1348.38,198.25 1348.38,225.52"/>
<polyline class="l" points="1362.4,198.25 1362.4,225.52"/>
<polyline class="l" points="1355.39,198.25 1355.39,225.52"/>
<polyline class="l" points="1349.35,198.25 1355.39,211.88 1361.43,198.25"/>
<polyline class="l" points="1349.35,225.52 1355.39,211.88 1361.43,225.52"/>
<polyline class="l" points="1352.27,198.25 1354.22,225.52"/>
<polyline class="l" points="1358.51,198.25 1356.56,225.52"/>
<polyline class="l" points="1348.38,243.05 1348.38,270.32"/>
<polyline class="l" points="1362.4,243.05 1362.4,270.32"/>
<polyline class="l" points="1355.39,243.05 1355.39,270.32"/>
<polyline class="l" points="1349.35,243.05 1355.39,256.69 1361.43,243.05"/>
<polyline class="l" points="1349.35,270.32 1355.39,256.69 1361.43,270.32"/>
<polyline class="l" points="1352.27,243.05 1354.22,270.32"/>
<polyline class="l" points="1358.51,243.05 1356.56,270.32"/>
<circle class="l" cx="1352.66" cy="222.6" r="1.95"/>
<circle class="l" cx="1358.51" cy="222.6" r="1.95"/>
<circle class="l" cx="1352.66" cy="245.58" r="1.95"/>
<circle class="l" cx="1358.51" cy="245.58" r="1.95"/>
<circle class="f" cx="1355.39" cy="218.31" r="1.36"/>
<circle class="f" cx="1355.39" cy="249.48" r="1.36"/>
<polyline class="t" points="1301.04,270.32 1365.32,270.32"/>
<polyline class="l" points="1301.04,198.25 1365.32,198.25"/>
<rect class="f" x="1367.27" y="225.52" width="3.9" height="14.61"/>
<polyline class="l" points="1190.39,128.18 1190.39,210.0"/>
<polyline class="l" points="1191.69,128.18 1191.69,210.0"/>
<path class="l" d="M1181.95,112.6C1182.92,113.68 1186.38,116.49 1187.79,119.09C1189.20,121.69 1189.96,126.67 1190.39,128.18"/>
<rect class="hd" x="1136.49" y="133.12" width="53.9" height="1.56"/>
<polyline class="l" points="1141.43,134.68 1141.43,147.01"/>
<polyline class="l" points="1141.43,173.64 1141.43,194.42"/>
<polyline class="l" points="1151.43,147.01 1151.43,141.17 1184.55,141.17 1184.55,178.57 1151.43,178.57 1151.43,173.64"/>
<rect class="l" x="1116.75" y="147.01" width="63.9" height="26.62"/>
<polyline class="m" points="1117.53,147.01 1117.53,173.64"/>
<path class="l" d="M1136.49,148.31C1135.99,150.26 1133.51,156.00 1133.51,160.0C1133.51,164.00 1135.99,170.28 1136.49,172.34"/>
<polyline class="l" points="1136.49,148.31 1180.65,148.31"/>
<polyline class="l" points="1136.49,172.08 1180.65,172.08"/>
<polyline class="t" points="1136.49,149.09 1180.65,149.09"/>
<polyline class="t" points="1136.49,171.3 1180.65,171.3"/>
<path class="l" d="M1161.17,148.96C1160.09,150.80 1154.68,156.28 1154.68,160.0C1154.68,163.72 1160.09,169.42 1161.17,171.3"/>
<ellipse class="l" cx="1167.66" cy="160.0" rx="8.83" ry="11.69"/>
<ellipse class="l" cx="1167.66" cy="160.0" rx="3.64" ry="9.87"/>
<circle class="l" cx="1167.66" cy="155.19" r="2.21"/>
<circle class="l" cx="1167.66" cy="165.84" r="2.21"/>
<circle class="f" cx="1180.0" cy="155.45" r="0.78"/>
<circle class="f" cx="1180.0" cy="164.55" r="0.78"/>
<polyline class="m" points="1161.17,146.75 1174.16,146.75"/>
<polyline class="m" points="1161.17,173.9 1174.16,173.9"/>
<path class="l" d="M1100.78,148.96C1101.75,147.23 1104.56,141.34 1106.62,138.57C1108.68,135.80 1108.14,133.64 1113.12,132.34C1118.10,131.04 1132.60,131.04 1136.49,130.78"/>
<polyline class="l" points="1100.78,148.96 1116.75,148.96"/>
<polyline class="l" points="1100.78,172.34 1116.75,172.34"/>
<rect class="l" x="1049.48" y="140.91" width="30.52" height="37.92"/>
<polyline class="l" points="1051.43,140.91 1051.43,178.83"/>
<polyline class="t" points="1053.38,140.91 1053.38,178.83"/>
<polyline class="m" points="1049.48,140.91 1049.48,178.83"/>
<circle class="l" cx="1065.71" cy="159.74" r="10.39"/>
<circle class="l" cx="1065.71" cy="159.74" r="6.23"/>
<circle class="f" cx="1065.71" cy="159.74" r="0.78"/>
<polyline class="k" points="1065.71,129.74 1065.71,141.82"/>
<polyline class="k" points="1065.71,172.34 1065.71,182.73"/>
<text class="s" x="1031.95" y="129.48" text-anchor="start">Ж(10В)</text>
<polyline class="l" points="1046.88,133.38 1064.42,133.38"/>
<polygon class="f" points="1064.42,133.38 1059.92,134.48 1059.92,132.28"/>
<rect class="l" x="1083.9" y="140.91" width="16.23" height="37.92" rx="1.3"/>
<polyline class="l" points="1085.84,141.17 1085.84,178.57"/>
<polyline class="t" points="1087.79,141.17 1087.79,178.57"/>
<rect class="l" x="1090.39" y="158.7" width="9.74" height="3.25"/>
<polyline class="t" points="1080.0,148.96 1083.9,148.96"/>
<polyline class="t" points="1080.0,171.04 1083.9,171.04"/>
<rect class="l" x="1044.94" y="181.17" width="34.42" height="13.9" rx="2.08"/>
<rect class="l" x="1049.48" y="182.73" width="25.97" height="9.35"/>
<circle class="f" cx="1055.32" cy="187.27" r="1.04"/>
<circle class="f" cx="1067.66" cy="187.27" r="1.04"/>
<polyline class="m" points="1030.0,143.77 1049.48,143.77"/>
<polyline class="l" points="1035.19,125.58 1035.19,193.12"/>
<polyline class="l" points="1030.0,176.88 1049.48,176.88"/>
<polyline class="l" points="1030.0,192.47 1044.94,192.47"/>
<path class="l" d="M 1057.92 113.9 L 1092.34 118.05 L 1097.53 111.3 L 1105.32 111.3 L 1105.32 115.19 L 1117.01 115.19 L 1117.01 124.94 L 1097.53 124.94 L 1057.92 121.69 Z"/>
<path class="l" d="M1030.0,112.6C1031.73,113.03 1035.74,114.97 1040.39,115.19C1045.04,115.41 1055.00,114.12 1057.92,113.9"/>
<path class="l" d="M1030.0,119.09C1032.16,119.63 1038.34,121.91 1042.99,122.34C1047.64,122.77 1055.43,121.80 1057.92,121.69"/>
<polyline class="t" points="1030.0,115.19 1055.97,120.39"/>
<polyline class="t" points="1033.9,113.9 1045.58,122.99"/>
<polyline class="t" points="1030.0,121.69 1037.79,117.79"/>
<polyline class="l" points="1118.31,113.9 1152.08,113.9"/>
<polyline class="l" points="1118.31,121.04 1152.08,121.04"/>
<polyline class="l" points="1118.31,113.9 1118.31,121.04"/>
<path class="l" d="M 1152.08 113.9 L 1156.62 110.0 L 1156.62 124.94 L 1152.08 121.04 Z"/>
<rect class="l" x="1158.57" y="110.0" width="2.6" height="14.94"/>
<rect class="l" x="1162.47" y="109.35" width="5.84" height="15.19" rx="1.04"/>
<polyline class="l" points="1162.47,113.9 1168.31,113.9"/>
<polyline class="l" points="1162.47,121.04 1168.31,121.04"/>
<polyline class="l" points="1168.31,113.9 1191.04,113.9"/>
<polyline class="l" points="1168.31,121.04 1191.04,121.04"/>
<rect class="l" x="1191.04" y="115.19" width="4.55" height="4.55" rx="0.65"/>
<rect class="hd" x="1150.13" y="122.34" width="4.55" height="10.78"/>
<polyline class="l" points="1102.73,125.58 1097.53,139.87"/>
<polyline class="l" points="1085.84,180.13 1080.65,193.12"/>
<text class="st" x="1560.52" y="60.91" text-anchor="start">Д–Д</text>
<text class="n" transform="translate(1446.95,63.83) scale(0.88,1)">77</text>
<polyline class="l" points="1446.95,66.17 1456.69,66.17 1513.18,96.95"/>
<text class="n" transform="translate(1446.95,74.55) scale(0.88,1)">78</text>
<polyline class="l" points="1444.03,77.86 1455.71,77.86 1506.36,101.82"/>
<polyline class="l" points="1455.13,77.86 1455.13,107.66"/>
<text class="n" transform="translate(1445.0,90.13) scale(0.88,1)">79</text>
<polyline class="l" points="1444.03,93.44 1455.13,93.44"/>
<text class="n" transform="translate(1445.0,104.74) scale(0.88,1)">80</text>
<polyline class="l" points="1444.03,107.66 1455.13,107.66"/>
<text class="n" transform="translate(1445.0,118.38) scale(0.88,1)">81</text>
<polyline class="l" points="1444.03,121.69 1486.88,121.69"/>
<polyline class="l" points="1455.71,121.69 1455.71,136.3"/>
<text class="n" transform="translate(1445.0,133.96) scale(0.88,1)">82</text>
<polyline class="l" points="1444.03,136.3 1455.71,136.3"/>
<polyline class="l" points="1399.22,24.87 1388.51,24.87 1388.51,55.65 1399.22,55.65"/>
<polyline class="l" points="1388.51,40.45 1399.22,40.45"/>
<text class="n" transform="translate(1390.45,36.56) scale(0.88,1)">66</text>
<text class="n" transform="translate(1390.45,52.14) scale(0.88,1)">67</text>
<polyline class="l" points="1388.51,24.87 1368.05,48.25"/>
<text class="n" transform="translate(1390.45,21.56) scale(0.88,1)">65</text>
<text class="n" transform="translate(1390.45,64.42) scale(0.88,1)">68</text>
<polyline class="l" points="1403.12,67.34 1388.51,67.34 1370.0,78.44"/>
<text class="n" transform="translate(1390.45,74.55) scale(0.88,1)">69</text>
<polyline class="l" points="1403.12,77.86 1388.51,77.86 1374.87,83.31"/>
<text class="n" transform="translate(1388.51,126.17) scale(0.88,1)">70</text>
<polyline class="l" points="1397.27,128.12 1387.53,128.12 1387.53,151.49 1397.27,151.49"/>
<polyline class="l" points="1387.53,139.22 1397.27,139.22"/>
<text class="n" transform="translate(1388.51,136.49) scale(0.88,1)">71</text>
<text class="n" transform="translate(1388.51,148.57) scale(0.88,1)">72</text>
<polyline class="l" points="1387.53,128.12 1354.42,99.09"/>
<rect class="hd" x="1370.0" y="79.42" width="4.87" height="18.51" rx="1.17"/>
<rect class="l" x="1509.29" y="99.87" width="164.61" height="12.66"/>
<polyline class="bo" points="1509.29,100.84 1673.9,100.84"/>
<polyline class="bi" points="1509.29,100.84 1673.9,100.84"/>
<polyline class="bo" points="1509.29,111.75 1673.9,111.75"/>
<polyline class="bi" points="1509.29,111.75 1673.9,111.75"/>
<polyline class="cl" points="1514.16,106.3 1553.12,106.3"/>
<polyline class="cl" points="1564.81,106.3 1619.35,106.3"/>
<polyline class="cl" points="1627.14,106.3 1668.05,106.3"/>
<rect class="l" x="1505.39" y="97.92" width="3.9" height="15.97" rx="1.56"/>
<polyline class="l" points="1502.47,106.69 1505.39,106.69"/>
<rect class="l" x="1511.23" y="95.0" width="4.87" height="4.87"/>
<polyline class="l" points="1502.47,108.64 1505.39,108.64"/>
<rect class="l" x="1670.97" y="97.92" width="6.82" height="13.64" rx="1.56"/>
<polyline class="l" points="1495.65,71.04 1489.22,97.92 1489.22,109.61"/>
<polyline class="l" points="1501.49,72.21 1494.68,97.92 1494.68,109.61"/>
<polyline class="l" points="1495.65,71.04 1501.49,72.21"/>
<polyline class="l" points="1661.23,72.21 1668.05,90.13"/>
<polyline class="l" points="1666.1,71.04 1672.92,94.03"/>
<polyline class="l" points="1661.23,72.21 1666.1,71.04"/>
<polyline class="m" points="1670.0,60.32 1670.0,97.92"/>
<path class="l" d="M1513.18,113.51C1513.28,114.65 1512.96,118.60 1513.77,120.32C1514.58,122.04 1517.34,123.25 1518.05,123.83"/>
<polyline class="bo" points="1518.05,124.22 1662.21,124.22"/>
<polyline class="bi" points="1518.05,124.22 1662.21,124.22"/>
<path class="l" d="M1662.21,124.22C1663.51,123.57 1668.44,122.27 1670.0,120.32C1671.56,118.37 1671.30,113.83 1671.56,112.53"/>
<polyline class="t" points="1513.18,113.51 1513.18,117.4"/>
<path class="l" d="M1443.05,170.0C1445.16,165.13 1451.98,148.57 1455.71,140.78C1459.44,132.99 1460.58,128.12 1465.45,123.25C1470.32,118.38 1478.12,113.93 1484.94,111.56C1491.76,109.19 1502.79,109.45 1506.36,109.03"/>
<path class="l" d="M1638.83,111.56C1641.75,113.51 1651.98,117.73 1656.36,123.25C1660.74,128.77 1663.18,136.89 1665.13,144.68C1667.08,152.47 1667.56,165.78 1668.05,170.0"/>
<circle class="l" cx="1482.99" cy="125.19" r="5.84"/>
<polygon class="l" points="1487.05,126.28 1484.08,129.26 1480.01,128.17 1478.92,124.11 1481.9,121.13 1485.96,122.22"/>
<circle class="l" cx="1482.99" cy="125.19" r="2.45"/>
<circle class="l" cx="1468.38" cy="139.81" r="5.84"/>
<polygon class="l" points="1472.44,140.89 1469.47,143.87 1465.4,142.78 1464.31,138.72 1467.29,135.74 1471.35,136.83"/>
<circle class="l" cx="1468.38" cy="139.81" r="2.45"/>
<circle class="l" cx="1637.86" cy="124.22" r="5.84"/>
<polygon class="l" points="1641.92,125.31 1638.95,128.29 1634.88,127.2 1633.79,123.13 1636.77,120.16 1640.83,121.25"/>
<circle class="l" cx="1637.86" cy="124.22" r="2.45"/>
<circle class="l" cx="1652.47" cy="140.39" r="5.84"/>
<polygon class="l" points="1656.53,141.48 1653.56,144.45 1649.49,143.36 1648.4,139.3 1651.38,136.33 1655.44,137.41"/>
<circle class="l" cx="1652.47" cy="140.39" r="2.45"/>
<rect class="l" x="1520.0" y="121.3" width="5.84" height="11.3"/>
<rect class="l" x="1595.0" y="121.3" width="6.82" height="11.3"/>
<circle class="l" cx="1522.92" cy="120.91" r="1.56"/>
<circle class="l" cx="1598.31" cy="120.91" r="1.56"/>
<path class="l" d="M 1475.19 170.0 L 1475.19 148.57 Q 1475.19 132.99 1490.78 132.99 L 1631.04 132.99 Q 1646.62 132.99 1646.62 148.57 L 1646.62 170.0"/>
<path class="l" d="M 1476.75 170.0 L 1476.75 148.96 Q 1476.75 134.55 1491.17 134.55 L 1630.65 134.55 Q 1645.06 134.55 1645.06 148.96 L 1645.06 170.0"/>
<path class="l" d="M 1487.86 170.0 L 1487.86 160.26 Q 1487.86 145.65 1501.49 145.65 L 1619.35 145.65 Q 1632.99 145.65 1632.99 160.26 L 1632.99 170.0"/>
<path class="l" d="M 1489.42 170.0 L 1489.42 160.65 Q 1489.42 147.21 1501.88 147.21 L 1618.96 147.21 Q 1631.43 147.21 1631.43 160.65 L 1631.43 170.0"/>
<path class="l" d="M 1499.55 170.0 Q 1501.49 157.34 1515.13 157.34 L 1606.69 157.34 Q 1620.32 157.34 1622.27 170.0"/>
<path class="l" d="M 1501.1 170.0 Q 1503.05 158.9 1515.52 158.9 L 1606.3 158.9 Q 1618.77 158.9 1620.71 170.0"/>
<polyline class="cl" points="1560.91,101.82 1560.91,156.36"/>
<rect class="l" x="1445.0" y="163.18" width="7.79" height="6.82"/>
<polyline class="l" points="1442.08,166.49 1455.71,166.49"/>
<polyline class="l" points="1595.97,146.62 1595.97,156.36"/>
<polyline class="l" points="1606.69,136.88 1606.69,144.68"/>
<polyline class="l" points="1514.16,136.88 1514.16,144.68"/>
<rect class="l" x="1668.05" y="164.55" width="6.23" height="5.45"/>
<text class="n" transform="translate(1686.56,84.29) scale(0.88,1)">83</text>
<polyline class="l" points="1695.71,86.62 1684.61,86.62 1668.05,97.92"/>
<path class="g3" d="M 1475.97 170.0 L 1475.97 148.77 Q 1475.97 133.77 1490.97 133.77 L 1630.84 133.77 Q 1645.84 133.77 1645.84 148.77 L 1645.84 170.0"/>
<path class="g3" d="M 1488.64 170.0 L 1488.64 160.45 Q 1488.64 146.43 1501.69 146.43 L 1619.16 146.43 Q 1632.21 146.43 1632.21 160.45 L 1632.21 170.0"/>
<path class="g3" d="M 1500.32 170.0 Q 1502.27 158.12 1515.32 158.12 L 1606.49 158.12 Q 1619.55 158.12 1621.49 170.0"/>
<polyline class="l" points="1475.19,170.0 1475.19,216.75"/>
<polyline class="l" points="1476.75,170.0 1476.75,216.75"/>
<polyline class="l" points="1487.86,170.0 1487.86,216.75"/>
<polyline class="l" points="1489.42,170.0 1489.42,216.75"/>
<polyline class="g" points="1475.97,170.0 1475.97,216.75"/>
<polyline class="g" points="1488.64,170.0 1488.64,216.75"/>
<path class="l" d="M1502.47,170.0C1501.88,170.65 1499.61,171.95 1498.96,173.9C1498.31,175.85 1498.63,180.39 1498.57,181.69"/>
<polyline class="l" points="1498.57,181.69 1498.57,215.78"/>
<path class="l" d="M1504.03,170.0C1503.44,170.72 1501.17,172.34 1500.52,174.29C1499.87,176.24 1500.20,180.46 1500.13,181.69"/>
<polyline class="l" points="1500.13,181.69 1500.13,215.78"/>
<path class="l" d="M1618.96,170.0C1619.41,170.81 1621.04,172.92 1621.69,174.87C1622.34,176.82 1622.66,180.55 1622.86,181.69"/>
<polyline class="l" points="1622.86,181.69 1622.86,211.88"/>
<path class="l" d="M1617.4,170.0C1617.86,170.81 1619.48,172.92 1620.13,174.87C1620.78,176.82 1621.11,180.55 1621.3,181.69"/>
<polyline class="l" points="1621.3,181.69 1621.3,211.88"/>
<polyline class="l" points="1632.01,170.0 1632.01,215.19"/>
<polyline class="l" points="1633.57,170.0 1633.57,215.19"/>
<polyline class="l" points="1644.68,170.0 1644.68,215.19"/>
<polyline class="l" points="1646.23,170.0 1646.23,215.19"/>
<polyline class="g" points="1632.79,170.0 1632.79,215.19"/>
<polyline class="g" points="1645.45,170.0 1645.45,215.19"/>
<polyline class="l" points="1667.08,170.0 1667.08,211.88"/>
<polyline class="l" points="1667.08,171.95 1673.9,171.95 1673.9,170.0"/>
<polyline class="l" points="1623.25,187.14 1632.01,187.14"/>
<polyline class="l" points="1633.57,175.84 1644.68,175.84"/>
<polyline class="l" points="1454.74,173.9 1453.38,197.27"/>
<path class="l" d="M1453.38,197.27C1453.77,198.73 1453.70,203.77 1455.71,206.04C1457.72,208.31 1462.20,209.12 1465.45,210.91C1468.70,212.69 1470.97,215.78 1475.19,216.75C1479.41,217.72 1485.59,216.75 1490.78,216.75C1495.97,216.75 1500.52,216.26 1506.36,216.75C1512.20,217.24 1519.35,218.71 1525.84,219.68C1532.33,220.66 1539.47,222.05 1545.32,222.6C1551.16,223.15 1555.72,223.48 1560.91,222.99C1566.11,222.50 1571.30,221.37 1576.49,219.68C1581.68,217.99 1587.53,214.39 1592.08,212.86C1596.63,211.33 1598.90,210.59 1603.77,210.52C1608.64,210.46 1614.81,211.69 1621.3,212.47C1627.79,213.25 1636.89,214.96 1642.73,215.19C1648.57,215.42 1652.30,214.38 1656.36,213.83C1660.42,213.28 1665.29,212.20 1667.08,211.88"/>
<polyline class="cl" points="1560.52,170.0 1560.52,231.36"/>
<polyline class="l" points="1443.05,170.0 1443.05,171.95 1453.77,171.95"/>
<text class="n" transform="translate(1395.32,217.73) scale(0.88,1)">73</text>
<polyline class="l" points="1374.87,226.49 1403.12,219.68"/>
<rect class="hd" x="1370.0" y="225.52" width="4.87" height="17.53" rx="1.17"/>
<text class="n" transform="translate(1389.48,254.74) scale(0.88,1)">74</text>
<polyline class="l" points="1399.22,257.08 1387.53,257.08 1387.53,287.47 1399.22,287.47"/>
<polyline class="l" points="1387.53,272.66 1399.22,272.66"/>
<text class="n" transform="translate(1389.48,269.74) scale(0.88,1)">75</text>
<text class="n" transform="translate(1389.48,284.94) scale(0.88,1)">76</text>
<polyline class="l" points="1387.53,257.08 1370.0,246.95"/>
<text class="st" x="1592.66" y="318.05" text-anchor="start">Р</text>
<polyline class="g3" points="1499.35,177.79 1499.35,215.78"/>
<polyline class="g3" points="1622.08,177.79 1622.08,211.88"/>
<text class="n" transform="translate(125.97,345.58) scale(0.88,1)">34</text>
<polyline class="l" points="125.0,348.51 135.71,348.51 135.71,384.55 125.0,384.55"/>
<polyline class="l" points="125.0,360.19 135.71,360.19"/>
<polyline class="l" points="124.03,372.86 135.71,372.86"/>
<text class="n" transform="translate(125.0,357.27) scale(0.88,1)">35</text>
<text class="n" transform="translate(123.64,369.94) scale(0.88,1)">36</text>
<text class="n" transform="translate(123.64,381.62) scale(0.88,1)">37</text>
<polyline class="l" points="135.71,348.51 157.14,393.31"/>
<text class="n" transform="translate(155.19,355.32) scale(0.88,1)">38</text>
<polyline class="l" points="163.96,357.86 154.22,357.86 158.31,388.44"/>
<text class="n" transform="translate(182.47,355.32) scale(0.88,1)">39</text>
<polyline class="l" points="191.23,357.86 180.91,357.86 162.99,398.18"/>
<text class="n" transform="translate(224.35,355.32) scale(0.88,1)">40</text>
<polyline class="l" points="234.09,357.86 223.38,357.86 187.34,389.42"/>
<rect class="l" x="64.61" y="405.0" width="3.9" height="72.08"/>
<polyline class="g" points="66.56,405.97 66.56,476.1"/>
<polyline class="l" points="62.08,405.0 138.64,405.0"/>
<polyline class="l" points="62.08,406.56 138.64,406.56"/>
<polyline class="m" points="62.08,405.78 138.64,405.78"/>
<polyline class="l" points="62.08,475.52 156.75,475.52"/>
<polyline class="l" points="62.08,477.08 156.75,477.08"/>
<polyline class="m" points="62.08,476.3 138.64,476.3"/>
<circle class="l" cx="66.56" cy="404.03" r="1.75"/>
<circle class="l" cx="66.56" cy="478.44" r="1.75"/>
<circle class="l" cx="102.01" cy="403.64" r="1.56"/>
<circle class="l" cx="102.01" cy="478.44" r="1.56"/>
<rect class="l" x="100.26" y="405.0" width="3.31" height="72.08"/>
<polyline class="l" points="138.64,406.56 138.64,475.52"/>
<polyline class="t" points="94.81,423.51 94.81,475.52"/>
<polyline class="t" points="111.36,423.51 111.36,475.52"/>
<polygon class="l" points="69.87,410.45 135.71,410.45 131.23,415.62 135.71,420.78 69.87,420.78 73.69,415.62"/>
<polyline class="l" points="73.57,414.16 131.23,414.16"/>
<polyline class="l" points="73.57,417.08 131.23,417.08"/>
<polyline class="m" points="85.65,410.06 135.71,410.06"/>
<polyline class="m" points="85.65,422.34 119.16,422.34"/>
<polyline class="t" points="71.43,411.82 134.16,411.82"/>
<polyline class="t" points="71.43,419.42 134.16,419.42"/>
<polyline class="l" points="69.48,427.4 72.99,428.96 72.99,431.3 69.48,432.86"/>
<polyline class="l" points="69.48,434.42 72.99,435.97 72.99,438.31 69.48,439.87"/>
<polyline class="l" points="69.48,441.43 72.99,442.99 72.99,445.32 69.48,446.88"/>
<polyline class="l" points="69.48,448.44 72.99,450.0 72.99,452.34 69.48,453.9"/>
<polyline class="l" points="69.48,455.45 72.99,457.01 72.99,459.35 69.48,460.91"/>
<polyline class="l" points="69.48,462.47 72.99,464.03 72.99,466.36 69.48,467.92"/>
<polyline class="l" points="69.48,469.48 72.99,471.04 72.99,473.38 69.48,474.94"/>
<rect class="l" x="82.14" y="394.29" width="1.95" height="10.71"/>
<rect class="l" x="122.08" y="394.29" width="1.56" height="10.71"/>
<rect class="l" x="93.83" y="398.18" width="14.61" height="4.87"/>
<rect class="l" x="87.01" y="403.05" width="32.14" height="1.95"/>
<polyline class="l" points="123.64,398.18 156.75,398.18"/>
<polyline class="l" points="123.64,400.13 156.75,400.13"/>
<polyline class="m" points="123.64,404.42 156.75,404.42"/>
<polyline class="t" points="123.64,405.97 156.75,405.97"/>
<rect class="l" x="82.14" y="477.08" width="1.95" height="10.71"/>
<rect class="l" x="122.08" y="477.08" width="1.56" height="10.71"/>
<rect class="hd" x="94.42" y="480.97" width="15.0" height="4.87"/>
<rect class="l" x="87.01" y="477.08" width="32.14" height="1.95"/>
<polyline class="l" points="123.64,483.9 156.75,483.9"/>
<polyline class="l" points="123.64,481.95 156.75,481.95"/>
<polyline class="m" points="123.64,477.66 156.75,477.66"/>
<rect class="l" x="170.78" y="388.44" width="2.34" height="105.19"/>
<polyline class="g" points="171.95,389.42 171.95,492.66"/>
<path class="l" d="M 159.09 405.0 L 159.09 392.34 Q 159.09 388.05 164.94 388.05 Q 170.39 388.05 170.39 392.34 L 170.39 405.0"/>
<rect class="l" x="162.99" y="384.55" width="3.9" height="3.51" rx="0.78"/>
<rect class="l" x="156.75" y="392.34" width="2.34" height="14.61"/>
<polyline class="l" points="159.09,405.0 159.09,421.56 162.99,431.3 170.39,431.3"/>
<circle class="l" cx="164.35" cy="418.05" r="3.31"/>
<polygon class="l" points="166.65,418.67 164.97,420.36 162.66,419.74 162.05,417.43 163.73,415.75 166.04,416.37"/>
<circle class="l" cx="164.35" cy="418.05" r="1.39"/>
<rect class="l" x="173.12" y="393.31" width="4.48" height="6.43" rx="0.78"/>
<rect class="l" x="173.12" y="400.13" width="4.48" height="6.82" rx="0.78"/>
<polyline class="l" points="170.39,450.78 162.99,450.78 159.09,464.42 159.09,472.21"/>
<circle class="l" cx="164.35" cy="464.42" r="3.31"/>
<polygon class="l" points="166.65,465.03 164.97,466.72 162.66,466.1 162.05,463.8 163.73,462.11 166.04,462.73"/>
<circle class="l" cx="164.35" cy="464.42" r="1.39"/>
<path class="l" d="M 159.09 472.21 L 159.09 488.77 Q 159.09 492.66 164.94 492.66 Q 170.39 492.66 170.39 488.77 L 170.39 472.21"/>
<rect class="l" x="162.99" y="492.66" width="3.9" height="4.48" rx="0.78"/>
<rect class="l" x="156.75" y="475.13" width="2.34" height="14.61"/>
<rect class="l" x="176.23" y="378.31" width="17.92" height="96.82" rx="1.56"/>
<polyline class="l" points="178.18,379.68 178.18,474.16"/>
<polyline class="t" points="192.21,379.68 192.21,474.16"/>
<rect class="hd" x="177.6" y="374.42" width="15.58" height="4.29"/>
<rect class="hd" x="177.6" y="469.29" width="15.58" height="5.84"/>
<polygon class="l" points="176.62,478.05 195.13,478.05 193.18,485.84 178.57,485.84"/>
<rect class="l" x="182.86" y="485.84" width="7.79" height="7.79"/>
<rect class="l" x="211.3" y="382.21" width="3.31" height="117.27"/>
<polyline class="g" points="212.86,382.99 212.86,498.51"/>
<path class="l" d="M 199.61 405.0 L 199.61 388.44 Q 199.61 384.55 205.26 384.55 Q 210.91 384.55 210.91 388.44 L 210.91 405.0"/>
<rect class="l" x="202.92" y="378.7" width="3.9" height="5.84" rx="0.78"/>
<polyline class="l" points="199.61,405.0 199.61,415.71 202.92,424.48 210.91,424.48"/>
<circle class="l" cx="204.87" cy="412.21" r="3.31"/>
<polygon class="l" points="207.17,412.82 205.49,414.51 203.18,413.89 202.57,411.59 204.25,409.9 206.56,410.52"/>
<circle class="l" cx="204.87" cy="412.21" r="1.39"/>
<rect class="l" x="214.61" y="387.47" width="4.48" height="5.84" rx="0.78"/>
<rect class="l" x="214.61" y="394.29" width="4.48" height="5.84" rx="0.78"/>
<rect class="l" x="194.16" y="396.23" width="4.29" height="3.9"/>
<polyline class="l" points="210.91,456.62 202.92,456.62 199.61,466.36 199.61,475.13"/>
<circle class="l" cx="204.87" cy="469.87" r="3.31"/>
<polygon class="l" points="207.17,470.49 205.49,472.17 203.18,471.56 202.57,469.25 204.25,467.57 206.56,468.18"/>
<circle class="l" cx="204.87" cy="469.87" r="1.39"/>
<path class="l" d="M 199.61 475.13 L 199.61 494.61 Q 199.61 497.92 205.26 497.92 Q 210.91 497.92 210.91 494.61 L 210.91 475.13"/>
<rect class="l" x="203.31" y="497.92" width="3.51" height="5.45" rx="0.78"/>
<rect class="l" x="214.61" y="481.95" width="4.48" height="5.84" rx="0.78"/>
<rect class="l" x="214.61" y="488.18" width="4.48" height="5.84" rx="0.78"/>
<polyline class="l" points="219.09,393.9 283.77,393.9"/>
<polyline class="l" points="219.09,488.77 380.0,488.77"/>
<rect class="l" x="230.19" y="381.62" width="8.77" height="4.87"/>
<rect class="l" x="226.3" y="386.49" width="17.53" height="2.92"/>
<polyline class="l" points="224.35,390.78 256.49,390.78"/>
<rect class="l" x="254.55" y="382.21" width="2.34" height="11.69"/>
<polyline class="l" points="224.35,490.13 256.49,490.13"/>
<rect class="l" x="226.3" y="490.13" width="17.53" height="3.12"/>
<rect class="hd" x="230.19" y="493.25" width="8.77" height="5.84"/>
<rect class="l" x="254.55" y="488.77" width="2.34" height="10.71"/>
<rect class="l" x="283.77" y="379.68" width="9.74" height="89.61" rx="1.17"/>
<polyline class="l" points="286.3,380.65 286.3,468.31"/>
<polyline class="l" points="290.97,380.65 290.97,468.31"/>
<polyline class="g" points="288.64,381.04 288.64,467.92"/>
<rect class="l" x="286.1" y="376.36" width="5.45" height="3.51" rx="0.78"/>
<rect class="l" x="286.1" y="469.09" width="5.45" height="3.51" rx="0.78"/>
<polyline class="l" points="293.51,381.62 380.0,381.62"/>
<polyline class="l" points="293.51,383.57 380.0,383.57"/>
<polyline class="g" points="293.51,382.6 380.0,382.6"/>
<polyline class="l" points="293.51,393.9 380.0,393.9"/>
<polyline class="l" points="293.51,465.39 380.0,465.39"/>
<polyline class="l" points="293.51,467.14 380.0,467.14"/>
<polyline class="g" points="293.51,466.36 380.0,466.36"/>
<text class="s" x="128.9" y="530.65" text-anchor="start">У</text>
<rect class="l" x="402.4" y="379.74" width="6.43" height="89.61" rx="0.78"/>
<polyline class="t" points="404.35,380.71 404.35,468.38"/>
<polyline class="t" points="406.88,380.71 406.88,468.38"/>
<polyline class="g" points="405.52,380.71 405.52,468.38"/>
<polyline class="l" points="380.0,381.69 402.4,381.69"/>
<polyline class="l" points="380.0,383.25 402.4,383.25"/>
<polyline class="l" points="380.0,465.45 402.4,465.45"/>
<polyline class="l" points="380.0,467.01 402.4,467.01"/>
<rect class="l" x="403.38" y="378.57" width="4.48" height="1.56"/>
<rect class="l" x="403.38" y="468.96" width="4.48" height="1.56"/>
<polyline class="l" points="380.0,393.77 545.58,393.77"/>
<polyline class="l" points="551.43,393.77 710.0,393.77"/>
<polyline class="l" points="380.0,488.44 528.05,488.44"/>
<polyline class="l" points="534.87,488.44 710.0,488.44"/>
<path class="l" d="M545.58,393.77C546.30,396.95 549.81,404.81 549.87,412.86C549.93,420.91 548.80,433.15 545.97,442.08C543.14,451.01 535.91,458.70 532.92,466.43C529.93,474.16 528.86,484.77 528.05,488.44"/>
<path class="l" d="M551.43,393.77C551.98,396.95 554.67,404.48 554.74,412.86C554.81,421.24 554.48,434.94 551.82,444.03C549.16,453.12 541.60,460.00 538.77,467.4C535.94,474.80 535.52,484.93 534.87,488.44"/>
<polyline class="l" points="554.35,418.12 710.0,418.12"/>
<polyline class="l" points="538.18,464.48 710.0,464.48"/>
<rect class="l" x="598.38" y="385.97" width="1.56" height="7.79" rx="0.58"/>
<rect class="l" x="598.38" y="488.44" width="1.56" height="8.18" rx="0.58"/>
<polyline class="l" points="700.0,394.16 872.73,394.16"/>
<polyline class="l" points="878.16,394.16 1029.91,394.16"/>
<polyline class="l" points="700.0,488.42 854.22,488.42"/>
<polyline class="l" points="860.39,488.42 1029.91,488.42"/>
<polyline class="l" points="700.0,417.6 764.16,417.6 867.79,436.6 867.79,447.21 764.16,464.48 700.0,464.48"/>
<rect class="l" x="827.08" y="346.04" width="11.1" height="125.84" rx="1.97"/>
<polyline class="l" points="830.04,347.27 830.04,470.65"/>
<polyline class="l" points="835.22,347.27 835.22,470.65"/>
<polyline class="g" points="832.51,347.77 832.51,470.16"/>
<rect class="l" x="829.55" y="344.31" width="6.17" height="2.47"/>
<rect class="l" x="829.55" y="471.14" width="6.17" height="2.47"/>
<rect class="l" x="726.16" y="385.77" width="1.97" height="8.39" rx="0.74"/>
<rect class="l" x="726.16" y="488.42" width="1.97" height="9.38" rx="0.74"/>
<rect class="l" x="767.36" y="385.77" width="1.97" height="8.39" rx="0.74"/>
<rect class="l" x="767.36" y="488.42" width="1.97" height="9.38" rx="0.74"/>
<path class="l" d="M872.73,394.16C873.43,397.45 877.25,404.24 876.92,413.9C876.59,423.56 874.25,441.86 870.75,452.14C867.25,462.42 858.71,469.53 855.95,475.58C853.20,481.63 854.51,486.28 854.22,488.42"/>
<path class="l" d="M878.16,394.16C878.82,397.45 882.35,404.03 882.1,413.9C881.85,423.77 880.01,443.02 876.68,453.38C873.35,463.74 864.84,470.24 862.12,476.08C859.40,481.92 860.68,486.36 860.39,488.42"/>
<polyline class="l" points="1012.14,392.92 1029.91,392.92"/>
<polyline class="l" points="1012.14,490.39 1029.91,490.39"/>
<polyline class="l" points="1000.0,394.16 1138.18,394.16"/>
<polyline class="l" points="1000.0,489.16 1138.18,489.16"/>
<polyline class="l" points="1012.34,392.92 1138.18,392.92"/>
<polyline class="l" points="1012.34,490.39 1138.18,490.39"/>
<polyline class="l" points="1034.55,391.19 1111.04,374.42 1190.0,374.42 1190.0,394.16"/>
<polyline class="g" points="1034.55,391.19 1138.18,391.19"/>
<polyline class="l" points="1034.55,491.62 1111.04,508.16 1190.0,508.16 1190.0,489.16"/>
<polyline class="g" points="1034.55,492.12 1138.18,492.12"/>
<polyline class="k" points="1140.65,511.36 1182.6,511.36"/>
<rect class="w" x="1137.44" y="351.71" width="18.01" height="141.14"/>
<polyline class="t" points="1153.48,353.44 1153.48,491.62"/>
<rect class="l" x="1139.42" y="347.27" width="14.81" height="4.44"/>
<rect class="l" x="1144.6" y="344.31" width="2.47" height="2.96"/>
<rect class="l" x="1139.42" y="492.86" width="14.81" height="6.17"/>
<rect class="l" x="1144.6" y="499.03" width="2.47" height="3.7"/>
<polyline class="k" points="1140.65,349.74 1152.99,349.74"/>
<polyline class="k" points="1140.65,494.83 1152.99,494.83"/>
<text class="n" transform="translate(1196.17,332.96) scale(0.88,1)">41</text>
<polyline class="l" points="1204.81,335.43 1193.7,335.43 1149.29,369.48"/>
<polyline class="l" points="1165.82,394.65 1165.82,487.92"/>
<polyline class="t" points="1188.77,374.42 1188.77,508.16"/>
<polyline class="l" points="1191.23,394.65 1191.23,487.92"/>
<polyline class="l" points="1155.45,394.65 1191.23,394.65"/>
<polyline class="l" points="1165.82,442.27 1191.23,442.27"/>
<polyline class="l" points="1155.45,487.92 1191.23,487.92"/>
<polyline class="l" points="1167.79,419.32 1191.23,419.32"/>
<polyline class="l" points="1167.79,427.47 1191.23,427.47"/>
<rect class="l" x="1191.23" y="420.81" width="4.94" height="4.94" rx="0.74"/>
<rect class="l" x="1165.82" y="417.6" width="2.47" height="11.6"/>
<polyline class="l" points="1167.79,455.84 1191.23,455.84"/>
<polyline class="l" points="1167.79,464.48 1191.23,464.48"/>
<rect class="l" x="1191.23" y="457.32" width="4.94" height="5.18" rx="0.74"/>
<rect class="l" x="1165.82" y="454.12" width="2.47" height="12.09"/>
<polyline class="l" points="1155.45,384.29 1172.73,374.42"/>
<polyline class="l" points="1155.45,497.79 1172.73,508.16"/>
<polyline class="l" points="1155.45,371.95 1190.0,371.95"/>
<text class="st" x="1311.4" y="420.06" text-anchor="start">Б–Б</text>
<path class="l" d="M1257.86,362.86C1257.86,359.17 1257.86,344.40 1257.86,340.71"/>
<path class="l" d="M 1257.86 362.86 L 1257.86 340.71 L 1270.71 334.29 L 1282.86 332.14"/>
<path class="l" d="M1282.86,332.14C1285.72,332.62 1293.81,333.21 1300.0,335.0C1306.19,336.79 1313.81,341.00 1320.0,342.86C1326.19,344.72 1331.43,345.66 1337.14,346.14C1342.86,346.62 1347.86,346.62 1354.29,345.71C1360.72,344.80 1368.57,342.85 1375.71,340.71C1382.85,338.57 1392.14,334.53 1397.14,332.86C1402.14,331.19 1404.28,331.07 1405.71,330.71"/>
<path class="l" d="M 1405.71 330.71 L 1418.57 330.71 L 1428.57 338.57 L 1428.57 362.14 L 1390.0 387.86 L 1295.0 387.86 L 1257.86 362.86"/>
<path class="l" d="M 1259.57 361.86 L 1259.57 341.86 L 1271.14 336.0 M 1419.29 332.43 L 1426.86 339.29 L 1426.86 361.43 L 1389.29 386.0 L 1295.71 386.0 L 1259.57 361.86"/>
<polyline class="l" points="1269.29,336.43 1269.29,343.57 1275.0,351.43"/>
<polyline class="l" points="1281.43,333.57 1282.86,339.29 1287.86,342.43"/>
<polyline class="l" points="1417.14,332.43 1417.14,343.57 1411.43,350.71"/>
<polyline class="l" points="1413.57,332.43 1413.57,343.57"/>
<polyline class="l" points="1405.71,331.86 1404.29,338.57 1400.0,342.14"/>
<polyline class="l" points="1311.43,356.43 1375.71,356.43"/>
<polyline class="l" points="1311.43,357.86 1375.71,357.86"/>
<polyline class="l" points="1302.86,369.0 1382.86,369.0"/>
<polyline class="l" points="1302.86,370.43 1382.86,370.43"/>
<polyline class="l" points="1287.86,342.43 1311.43,356.43"/>
<polyline class="l" points="1400.0,342.14 1375.71,356.43"/>
<polygon class="hx" points="1282.86,342.86 1308.57,357.86 1302.86,367.14 1277.14,352.14"/>
<polygon class="hx" points="1272.86,353.57 1301.43,370.0 1294.29,382.14 1267.14,366.43"/>
<polygon class="hx" points="1402.86,342.86 1377.14,357.86 1382.86,367.14 1408.57,352.14"/>
<polygon class="hx" points="1412.86,353.57 1384.29,370.0 1391.43,382.14 1418.57,366.43"/>
<circle class="w" cx="1277.86" cy="345.71" r="2.57"/>
<circle class="l" cx="1277.86" cy="345.71" r="1.57"/>
<circle class="w" cx="1265.0" cy="362.14" r="2.57"/>
<circle class="l" cx="1265.0" cy="362.14" r="1.57"/>
<circle class="w" cx="1308.57" cy="364.29" r="2.57"/>
<circle class="l" cx="1308.57" cy="364.29" r="1.57"/>
<circle class="w" cx="1299.29" cy="381.43" r="2.57"/>
<circle class="l" cx="1299.29" cy="381.43" r="1.57"/>
<circle class="w" cx="1407.86" cy="345.71" r="2.57"/>
<circle class="l" cx="1407.86" cy="345.71" r="1.57"/>
<circle class="w" cx="1420.71" cy="361.43" r="2.57"/>
<circle class="l" cx="1420.71" cy="361.43" r="1.57"/>
<circle class="w" cx="1377.86" cy="364.29" r="2.57"/>
<circle class="l" cx="1377.86" cy="364.29" r="1.57"/>
<circle class="w" cx="1386.43" cy="381.43" r="2.57"/>
<circle class="l" cx="1386.43" cy="381.43" r="1.57"/>
<polyline class="l" points="1343.57,328.57 1343.57,400.71"/>
<text class="n" transform="translate(1447.14,340.71) scale(0.88,1)">84</text>
<polyline class="l" points="1455.0,344.0 1444.29,344.0 1417.14,345.71"/>
<polyline class="l" points="1444.57,344.0 1444.57,374.29 1455.0,374.29"/>
<polyline class="l" points="1444.57,359.29 1455.0,359.29"/>
<text class="n" transform="translate(1446.43,356.43) scale(0.88,1)">85</text>
<text class="n" transform="translate(1446.43,371.43) scale(0.88,1)">86</text>
<text class="n" transform="translate(1447.14,397.14) scale(0.88,1)">87</text>
<polyline class="l" points="1455.0,400.29 1444.29,400.29 1411.43,375.0"/>
<polyline class="l" points="1444.57,400.29 1444.57,430.71 1455.0,430.71"/>
<polyline class="l" points="1444.57,415.71 1455.0,415.71"/>
<text class="n" transform="translate(1446.43,412.86) scale(0.88,1)">88</text>
<text class="n" transform="translate(1446.43,427.86) scale(0.88,1)">89</text>
<path class="l" d="M1227.05,454.12C1233.01,452.94 1250.94,447.99 1262.79,447.05C1274.63,446.12 1286.34,446.88 1298.12,448.51C1309.89,450.14 1323.05,455.09 1333.44,456.82C1343.83,458.55 1350.41,459.25 1360.45,458.9C1370.49,458.55 1382.27,456.23 1393.7,454.74C1405.13,453.25 1421.34,450.65 1429.03,449.96C1436.72,449.27 1438.03,450.48 1439.83,450.58"/>
<path class="l" d="M 1227.05 454.12 L 1227.05 543.05 Q 1229.55 577.96 1266.95 577.96 L 1399.94 577.96 Q 1437.34 577.96 1439.83 543.05 L 1439.83 450.58"/>
<path class="l" d="M 1233.29 512.92 Q 1229.96 522.27 1231.62 543.05 Q 1235.78 571.1 1262.79 571.1 L 1304.35 571.1 Q 1310.58 570.06 1310.58 557.6"/>
<path class="l" d="M 1433.6 512.92 Q 1436.92 522.27 1435.26 543.05 Q 1431.1 571.1 1404.09 571.1 L 1362.53 571.1 Q 1356.3 570.06 1356.3 557.6"/>
<path class="l" d="M 1271.1 448.51 L 1271.1 499.83 L 1299.78 521.23 L 1367.1 521.23 L 1395.78 499.83 L 1395.78 454.74"/>
<path class="l" d="M 1273.18 449.55 L 1273.18 498.58 L 1300.61 519.16 L 1366.27 519.16 L 1393.7 498.58 L 1393.7 455.36"/>
<polyline class="l" points="1259.68,447.47 1259.68,497.34"/>
<polyline class="l" points="1262.38,447.47 1262.38,497.34"/>
<polyline class="l" points="1237.86,454.74 1237.86,513.96"/>
<polyline class="l" points="1404.51,454.74 1404.51,497.34"/>
<polyline class="l" points="1407.21,454.74 1407.21,497.34"/>
<polyline class="l" points="1429.03,450.58 1429.03,513.96"/>
<polyline class="l" points="1236.82,482.38 1270.06,482.38"/>
<polyline class="l" points="1396.82,482.38 1431.1,482.38"/>
<rect class="h" x="1263.21" y="468.25" width="6.23" height="25.97" rx="2.08"/>
<rect class="h" x="1397.44" y="469.29" width="6.23" height="24.94" rx="2.08"/>
<path class="l" d="M 1239.94 503.57 Q 1242.01 496.3 1256.56 497.34 L 1314.74 535.78 Q 1320.97 540.97 1318.48 548.25 Q 1314.74 557.6 1306.43 557.6 L 1262.79 554.48 Q 1242.01 538.9 1238.9 518.12 Z"/>
<path class="l" d="M 1426.95 503.57 Q 1424.87 496.3 1410.32 497.34 L 1352.14 535.78 Q 1345.91 540.97 1348.4 548.25 Q 1352.14 557.6 1360.45 557.6 L 1404.09 554.48 Q 1424.87 538.9 1427.99 518.12 Z"/>
<circle class="l" cx="1249.29" cy="505.65" r="5.19"/>
<circle class="l" cx="1249.29" cy="505.65" r="3.32"/>
<polyline class="t" points="1246.38,505.65 1252.19,505.65"/>
<polyline class="t" points="1249.29,502.74 1249.29,508.56"/>
<circle class="l" cx="1273.81" cy="532.66" r="5.19"/>
<circle class="l" cx="1273.81" cy="532.66" r="3.32"/>
<polyline class="t" points="1270.9,532.66 1276.71,532.66"/>
<polyline class="t" points="1273.81,529.75 1273.81,535.57"/>
<circle class="l" cx="1308.92" cy="544.71" r="5.19"/>
<circle class="l" cx="1308.92" cy="544.71" r="3.32"/>
<polyline class="t" points="1306.01,544.71 1311.83,544.71"/>
<polyline class="t" points="1308.92,541.81 1308.92,547.62"/>
<circle class="l" cx="1300.61" cy="560.3" r="5.19"/>
<circle class="l" cx="1300.61" cy="560.3" r="3.32"/>
<polyline class="t" points="1297.7,560.3 1303.52,560.3"/>
<polyline class="t" points="1300.61,557.39 1300.61,563.21"/>
<circle class="l" cx="1417.6" cy="505.65" r="5.19"/>
<circle class="l" cx="1417.6" cy="505.65" r="3.32"/>
<polyline class="t" points="1414.69,505.65 1420.51,505.65"/>
<polyline class="t" points="1417.6,502.74 1417.6,508.56"/>
<circle class="l" cx="1392.66" cy="532.66" r="5.19"/>
<circle class="l" cx="1392.66" cy="532.66" r="3.32"/>
<polyline class="t" points="1389.75,532.66 1395.57,532.66"/>
<polyline class="t" points="1392.66,529.75 1392.66,535.57"/>
<circle class="l" cx="1357.34" cy="544.71" r="5.19"/>
<circle class="l" cx="1357.34" cy="544.71" r="3.32"/>
<polyline class="t" points="1354.43,544.71 1360.25,544.71"/>
<polyline class="t" points="1357.34,541.81 1357.34,547.62"/>
<circle class="l" cx="1366.27" cy="560.3" r="5.19"/>
<circle class="l" cx="1366.27" cy="560.3" r="3.32"/>
<polyline class="t" points="1363.36,560.3 1369.18,560.3"/>
<polyline class="t" points="1366.27,557.39 1366.27,563.21"/>
<ellipse class="l" cx="1237.86" cy="520.19" rx="2.49" ry="4.99"/>
<ellipse class="l" cx="1429.03" cy="520.19" rx="2.49" ry="4.99"/>
<polyline class="l" points="1310.58,531.62 1358.38,531.62"/>
<polyline class="l" points="1312.66,534.74 1356.3,534.74"/>
<polyline class="l" points="1262.79,557.6 1404.09,557.6"/>
<polyline class="cl" points="1333.44,439.16 1333.44,591.88"/>
<text class="n" transform="translate(1451.47,503.57) scale(0.88,1)">94</text>
<polyline class="l" points="1459.16,507.73 1449.81,507.73 1414.48,517.7"/>
<text class="n" transform="translate(1208.77,580.87) scale(0.88,1)">93</text>
<polyline class="l" points="1207.73,582.95 1218.74,582.95 1257.6,536.82"/>
<path class="l" d="M1525.45,442.79C1524.76,438.90 1522.53,426.56 1521.3,419.42C1520.07,412.28 1518.61,406.44 1518.05,399.94C1517.49,393.44 1516.69,386.94 1517.92,380.45C1519.15,373.95 1521.38,366.38 1525.45,360.97C1529.52,355.56 1536.93,350.63 1542.34,347.99C1547.75,345.35 1553.16,345.52 1557.92,345.13C1562.68,344.74 1568.75,345.56 1570.91,345.65"/>
<path class="l" d="M1570.91,345.65C1573.08,346.26 1578.49,348.14 1583.9,349.29C1589.31,350.44 1596.89,352.57 1603.38,352.53C1609.87,352.49 1616.80,349.79 1622.86,349.03C1628.92,348.27 1636.93,348.16 1639.74,347.99"/>
<path class="l" d="M1639.74,347.99C1643.42,350.15 1655.97,354.48 1661.82,360.97C1667.66,367.46 1671.35,379.16 1674.81,386.95C1678.27,394.74 1681.08,402.54 1682.6,407.73C1684.12,412.93 1684.12,414.23 1683.9,418.12C1683.68,422.01 1682.38,426.56 1681.3,431.1C1680.22,435.65 1678.38,440.84 1677.4,445.39C1676.43,449.94 1675.78,456.21 1675.45,458.38"/>
<polyline class="l" points="1525.45,442.79 1536.49,423.31"/>
<polyline class="l" points="1536.49,354.48 1536.49,432.4 1541.69,432.4 1541.69,350.58"/>
<polyline class="t" points="1539.09,355.13 1539.09,431.75"/>
<polyline class="l" points="1551.17,346.04 1551.17,431.36"/>
<polyline class="l" points="1557.27,345.65 1557.27,402.53"/>
<polyline class="l" points="1552.08,402.53 1557.27,402.53"/>
<polyline class="l" points="1552.08,402.53 1552.08,431.36"/>
<polyline class="t" points="1557.27,402.53 1557.27,431.36"/>
<polyline class="l" points="1557.27,379.81 1638.44,379.81"/>
<polyline class="l" points="1638.44,347.99 1638.44,431.36"/>
<polyline class="l" points="1642.99,349.29 1642.99,448.64 1653.38,448.64"/>
<polyline class="m" points="1552.08,431.36 1642.99,431.36"/>
<polyline class="bo" points="1557.27,413.96 1638.44,413.96"/>
<polyline class="bi" points="1557.27,413.96 1638.44,413.96"/>
<polyline class="bo" points="1557.27,417.08 1638.44,417.08"/>
<polyline class="bi" points="1557.27,417.08 1638.44,417.08"/>
<polyline class="l" points="1653.38,357.08 1653.38,458.38 1675.45,458.38"/>
<polyline class="l" points="1658.57,362.27 1658.57,458.38"/>
<polyline class="l" points="1658.57,428.51 1681.3,428.51"/>
<polyline class="l" points="1658.57,431.75 1681.3,431.75"/>
<polyline class="l" points="1518.96,376.56 1536.49,376.56"/>
<polyline class="l" points="1518.96,379.16 1536.49,379.16"/>
<polyline class="l" points="1520.26,408.38 1536.49,408.38"/>
<polyline class="l" points="1520.91,410.58 1536.49,410.58"/>
<polyline class="t" points="1542.34,431.36 1551.17,431.36"/>
<polyline class="t" points="1542.34,429.81 1551.17,429.81"/>
<rect class="h" x="1539.09" y="359.68" width="18.83" height="19.48"/>
<rect class="hd" x="1541.04" y="362.92" width="6.49" height="12.34"/>
<rect class="f" x="1547.53" y="366.82" width="12.99" height="3.9"/>
<polyline class="l" points="1535.84,368.51 1563.77,368.51"/>
<rect class="l" x="1641.04" y="378.51" width="11.69" height="18.18" rx="1.82"/>
<rect class="hd" x="1642.99" y="381.1" width="5.84" height="12.99"/>
<rect class="f" x="1648.83" y="385.26" width="12.99" height="4.29"/>
<polyline class="l" points="1637.14,387.34 1665.71,387.34"/>
<polyline class="l" points="1639.09,402.53 1642.99,402.53"/>
<path class="l" d="M1572.86,346.04C1573.83,347.88 1575.13,354.16 1578.7,357.08C1582.27,360.00 1589.53,363.14 1594.29,363.57C1599.05,364.00 1604.24,361.41 1607.27,359.68C1610.30,357.95 1611.60,354.26 1612.47,353.18"/>
<path class="l" d="M1578.7,347.34C1579.57,348.75 1581.30,353.62 1583.9,355.78C1586.50,357.94 1591.04,360.10 1594.29,360.32C1597.54,360.54 1601.11,358.38 1603.38,357.08C1605.65,355.78 1607.16,353.29 1607.92,352.53"/>
<polyline class="t" points="1594.29,353.18 1594.29,362.92"/>
<text class="n2" transform="translate(1493.64,355.13) scale(0.88,1)">90</text>
<polyline class="l" points="1496.88,357.73 1507.27,357.73 1541.04,367.47"/>
<polyline class="l" points="1507.53,357.73 1507.53,387.6"/>
<polyline class="l" points="1496.88,373.05 1507.53,373.05"/>
<polyline class="l" points="1496.88,387.6 1507.53,387.6"/>
<text class="n2" transform="translate(1493.64,370.32) scale(0.88,1)">91</text>
<text class="n2" transform="translate(1492.99,385.26) scale(0.88,1)">92</text>
<path class="l" d="M33.19,656.33C33.33,646.02 33.75,608.91 34.02,594.48C34.30,580.05 34.15,575.10 34.84,569.74C35.53,564.38 34.29,563.70 38.14,562.32C41.99,560.95 53.54,562.73 57.94,561.49C62.34,560.25 61.78,556.41 64.53,554.9C67.28,553.39 68.66,552.69 74.43,552.42C80.20,552.14 89.00,552.56 99.17,553.25C109.34,553.94 123.90,555.86 135.45,556.55C146.99,557.24 158.82,556.55 168.44,557.37C178.06,558.19 184.93,559.15 193.18,561.49C201.43,563.83 210.22,566.44 217.92,571.39C225.62,576.34 233.86,584.03 239.36,591.18C244.86,598.33 247.75,606.57 250.91,614.27C254.07,621.97 256.41,629.83 258.33,637.36C260.25,644.89 261.76,655.78 262.45,659.46"/>
<path class="l" d="M262.45,659.46C262.18,663.59 262.73,673.76 260.81,684.21C258.89,694.66 255.31,713.35 250.91,722.14C246.51,730.93 242.67,732.58 234.42,736.98C226.17,741.38 212.43,745.23 201.43,748.53C190.43,751.83 182.19,754.72 168.44,756.78C154.69,758.84 135.45,761.17 118.96,760.9C102.47,760.62 82.95,757.33 69.48,755.13C56.01,752.93 44.19,750.19 38.14,747.71C32.09,745.24 34.07,749.32 33.19,740.28C32.31,731.24 32.86,707.43 32.86,693.44C32.86,679.45 33.13,662.52 33.19,656.33"/>
<path class="l" d="M220.4,571.39C221.64,577.99 225.76,598.33 227.82,610.97C229.88,623.62 231.40,637.09 232.77,647.26C234.14,657.43 235.51,667.88 236.06,672.0"/>
<rect class="l" x="63.71" y="560.67" width="112.98" height="9.07"/>
<polyline class="bo" points="68.66,561.82 171.74,561.82"/>
<polyline class="bi" points="68.66,561.82 171.74,561.82"/>
<polyline class="bo" points="68.66,567.93 171.74,567.93"/>
<polyline class="bi" points="68.66,567.93 171.74,567.93"/>
<polyline class="t" points="68.66,564.46 171.74,564.46"/>
<polyline class="l" points="136.28,570.56 179.99,570.56 179.99,579.64"/>
<polyline class="l" points="136.28,570.56 136.28,592.83"/>
<polyline class="g" points="137.1,574.36 178.34,574.36"/>
<polyline class="l" points="146.18,592.83 146.18,580.46 190.71,580.46 208.85,618.4"/>
<polyline class="l" points="173.39,580.46 173.39,593.33"/>
<rect class="l" x="116.49" y="600.25" width="18.14" height="47.01"/>
<polygon class="l" points="131.84,612.13 125.56,615.76 119.27,612.13 119.27,604.87 125.56,601.24 131.84,604.87"/>
<polygon class="l" points="131.84,642.64 125.56,646.27 119.27,642.64 119.27,635.38 125.56,631.76 131.84,635.38"/>
<rect class="l" x="153.6" y="600.25" width="17.32" height="40.41"/>
<polygon class="l" points="168.46,612.13 162.17,615.76 155.89,612.13 155.89,604.87 162.17,601.24 168.46,604.87"/>
<polygon class="l" points="168.46,635.71 162.17,639.34 155.89,635.71 155.89,628.46 162.17,624.83 168.46,628.46"/>
<polyline class="t" points="119.79,608.5 131.33,608.5"/>
<polyline class="t" points="125.56,601.08 125.56,615.92"/>
<polyline class="t" points="119.79,639.01 131.33,639.01"/>
<polyline class="t" points="125.56,631.59 125.56,646.44"/>
<polyline class="t" points="156.4,608.5 167.95,608.5"/>
<polyline class="t" points="162.17,601.08 162.17,615.92"/>
<polyline class="t" points="156.4,632.09 167.95,632.09"/>
<polyline class="t" points="162.17,624.66 162.17,639.51"/>
<polyline class="t" points="73.27,607.68 84.82,607.68"/>
<polyline class="t" points="79.05,600.25 79.05,615.1"/>
<polygon class="l" points="85.33,611.3 79.05,614.93 72.76,611.3 72.76,604.05 79.05,600.42 85.33,604.05"/>
<polyline class="l" points="70.31,600.25 87.62,600.25"/>
<polyline class="l" points="63.21,621.69 63.21,593.33 172.56,593.33"/>
<polyline class="l" points="63.21,621.69 70.31,621.69"/>
<polyline class="l" points="87.62,621.69 107.42,621.69 107.42,656.33"/>
<circle class="l" cx="194.5" cy="594.48" r="4.12"/>
<polyline class="t" points="194.5,587.06 194.5,602.73"/>
<polyline class="t" points="187.41,594.48 201.43,594.48"/>
<ellipse class="l" cx="188.23" cy="624.99" rx="7.42" ry="8.25"/>
<polyline class="t" points="175.86,624.99 200.6,624.99"/>
<rect class="l" x="63.71" y="742.92" width="112.98" height="9.07"/>
<polyline class="bo" points="68.66,750.84 171.74,750.84"/>
<polyline class="bi" points="68.66,750.84 171.74,750.84"/>
<polyline class="bo" points="68.66,744.74 171.74,744.74"/>
<polyline class="bi" points="68.66,744.74 171.74,744.74"/>
<polyline class="t" points="68.66,748.2 171.74,748.2"/>
<polyline class="l" points="136.28,742.1 179.99,742.1 179.99,733.03"/>
<polyline class="l" points="136.28,742.1 136.28,719.83"/>
<polyline class="g" points="137.1,738.3 178.34,738.3"/>
<polyline class="l" points="146.18,719.83 146.18,732.2 190.71,732.2 208.85,694.27"/>
<polyline class="l" points="173.39,732.2 173.39,719.34"/>
<rect class="l" x="116.49" y="665.4" width="18.14" height="47.01"/>
<polygon class="l" points="131.84,707.79 125.56,711.42 119.27,707.79 119.27,700.53 125.56,696.91 131.84,700.53"/>
<polygon class="l" points="131.84,677.28 125.56,680.91 119.27,677.28 119.27,670.02 125.56,666.39 131.84,670.02"/>
<rect class="l" x="153.6" y="672.0" width="17.32" height="40.41"/>
<polygon class="l" points="168.46,707.79 162.17,711.42 155.89,707.79 155.89,700.53 162.17,696.91 168.46,700.53"/>
<polygon class="l" points="168.46,684.21 162.17,687.83 155.89,684.21 155.89,676.95 162.17,673.32 168.46,676.95"/>
<polyline class="t" points="119.79,704.16 131.33,704.16"/>
<polyline class="t" points="125.56,711.58 125.56,696.74"/>
<polyline class="t" points="119.79,673.65 131.33,673.65"/>
<polyline class="t" points="125.56,681.07 125.56,666.23"/>
<polyline class="t" points="156.4,704.16 167.95,704.16"/>
<polyline class="t" points="162.17,711.58 162.17,696.74"/>
<polyline class="t" points="156.4,680.58 167.95,680.58"/>
<polyline class="t" points="162.17,688.0 162.17,673.15"/>
<polyline class="t" points="73.27,704.99 84.82,704.99"/>
<polyline class="t" points="79.05,712.41 79.05,697.56"/>
<polygon class="l" points="85.33,708.62 79.05,712.24 72.76,708.62 72.76,701.36 79.05,697.73 85.33,701.36"/>
<polyline class="l" points="70.31,712.41 87.62,712.41"/>
<polyline class="l" points="63.21,690.97 63.21,719.34 172.56,719.34"/>
<polyline class="l" points="63.21,690.97 70.31,690.97"/>
<polyline class="l" points="87.62,690.97 107.42,690.97 107.42,656.33"/>
<circle class="l" cx="194.5" cy="718.18" r="4.12"/>
<polyline class="t" points="194.5,725.6 194.5,709.94"/>
<polyline class="t" points="187.41,718.18 201.43,718.18"/>
<ellipse class="l" cx="188.23" cy="687.67" rx="7.42" ry="8.25"/>
<polyline class="t" points="175.86,687.67 200.6,687.67"/>
<polyline class="l" points="35.17,569.74 35.17,742.92"/>
<polyline class="l" points="70.31,600.25 70.31,712.41"/>
<polyline class="l" points="87.62,600.25 87.62,712.41"/>
<polyline class="l" points="172.56,593.33 172.56,719.34"/>
<polyline class="l" points="208.85,618.4 208.85,694.27"/>
<polyline class="l" points="208.85,694.27 179.16,720.16 172.56,720.16"/>
<ellipse class="l" cx="188.23" cy="656.33" rx="7.42" ry="8.25"/>
<polyline class="t" points="188.23,610.97 188.23,701.69"/>
<circle class="l" cx="221.55" cy="655.51" r="4.12"/>
<polyline class="t" points="221.55,648.08 221.55,662.93"/>
<circle class="l" cx="228.64" cy="708.29" r="9.07"/>
<polyline class="t" points="215.45,708.29 241.01,708.29"/>
<polyline class="t" points="228.64,693.44 228.64,723.13"/>
<polyline class="l" points="201.43,594.48 228.64,642.97 245.14,694.1 245.14,722.14 236.06,732.04 174.21,732.04"/>
<polyline class="l" points="246.79,695.09 246.79,721.48"/>
<polyline class="l" points="24.12,656.33 75.25,656.33"/>
<polyline class="l" points="86.8,656.33 96.69,656.33"/>
<polyline class="l" points="108.24,656.33 160.19,656.33"/>
<polyline class="l" points="171.74,656.33 242.66,656.33"/>
<text class="n" transform="translate(267.4,620.05) scale(0.88,1)">45</text>
<polyline class="l" points="275.65,624.99 265.75,624.99 172.56,610.15"/>
<text class="n" transform="translate(265.75,636.54) scale(0.88,1)">46</text>
<polyline class="l" points="274.0,640.33 264.1,640.33 165.14,620.87"/>
<text class="n" transform="translate(6.5,620.8) scale(0.88,1)">42</text>
<polyline class="l" points="7.0,623.1 17.0,623.1 74.0,612.3"/>
<polyline class="l" points="17.0,623.1 122.0,611.0"/>
<text class="n" transform="translate(6.5,645.5) scale(0.88,1)">43</text>
<polyline class="l" points="6.5,647.8 16.2,647.8 120.8,622.0"/>
<text class="n" transform="translate(7.1,674.7) scale(0.88,1)">44</text>
<polyline class="l" points="8.4,677.0 19.5,677.0 78.0,672.0"/>
<path class="l" d="M322.9,612.73C323.31,608.23 322.90,593.68 325.39,585.71C327.88,577.75 332.67,569.86 337.86,564.94C343.06,560.02 346.52,557.77 356.56,556.21C366.60,554.65 386.35,555.58 398.12,555.58C409.89,555.58 419.59,555.34 427.21,556.21C434.83,557.08 438.29,559.15 443.83,560.78C449.37,562.41 453.35,565.00 460.45,565.97C467.55,566.94 482.10,566.50 486.43,566.6"/>
<path class="l" d="M322.9,659.48C323.66,662.25 324.98,671.08 327.47,676.1C329.96,681.12 331.97,685.70 337.86,689.61C343.75,693.52 352.75,698.20 362.79,699.58C372.83,700.97 384.61,698.71 398.12,697.92C411.63,697.12 429.11,695.50 443.83,694.81C458.55,694.12 479.33,693.94 486.43,693.77"/>
<polyline class="l" points="322.9,612.73 322.9,659.48"/>
<rect class="h" x="322.9" y="603.38" width="152.1" height="14.55"/>
<rect class="h" x="322.9" y="641.82" width="152.1" height="17.66"/>
<rect class="h" x="423.05" y="617.92" width="51.95" height="23.9"/>
<rect class="w" x="425.13" y="622.08" width="34.29" height="18.7"/>
<rect class="w" x="459.42" y="628.31" width="9.35" height="6.23"/>
<polyline class="l" points="335.78,617.92 335.78,641.82"/>
<circle class="h" cx="380.45" cy="631.01" r="42.6"/>
<circle class="w" cx="380.45" cy="631.01" r="36.78"/>
<circle class="h" cx="380.45" cy="631.01" r="34.29"/>
<circle class="w" cx="380.45" cy="631.01" r="26.6"/>
<circle class="l" cx="380.45" cy="631.01" r="19.74"/>
<circle class="l" cx="380.45" cy="631.01" r="6.23"/>
<polygon class="l" points="385.03,631.01 382.74,634.97 378.17,634.97 375.88,631.01 378.17,627.05 382.74,627.05"/>
<circle class="l" cx="380.45" cy="631.01" r="2.49"/>
<rect class="h" x="439.68" y="560.78" width="8.31" height="42.6"/>
<rect class="h" x="439.68" y="659.48" width="8.31" height="35.32"/>
<polyline class="l" points="469.81,566.6 469.81,693.77"/>
<polyline class="l" points="472.92,566.6 472.92,693.77"/>
<rect class="h" x="483.31" y="566.6" width="3.12" height="127.17"/>
<rect class="hd" x="469.81" y="609.61" width="5.19" height="43.64"/>
<rect class="l" x="481.23" y="639.74" width="3.12" height="23.9"/>
<polyline class="cl" points="325.39,631.01 477.08,631.01"/>
<polyline class="cl" points="380.45,574.29 380.45,687.53"/>
<text class="n" transform="translate(503.05,586.75) scale(0.88,1)">47</text>
<polyline class="l" points="513.44,589.87 502.01,589.87 473.96,610.65"/>
<text class="n" transform="translate(503.05,606.49) scale(0.88,1)">48</text>
<polyline class="l" points="513.44,609.19 502.01,609.19 472.92,613.77"/>
<text class="n" transform="translate(503.05,628.31) scale(0.88,1)">49</text>
<polyline class="l" points="513.44,631.43 502.01,631.43 472.92,652.21"/>
<text class="st" x="401.0" y="541.0" text-anchor="start">Ж–Ж</text>
<text class="st" x="632.47" y="541.82" text-anchor="start">З–З</text>
<rect class="h" x="606.91" y="567.79" width="5.82" height="14.55"/>
<rect class="h" x="606.91" y="624.94" width="5.82" height="14.55"/>
<rect class="h" x="671.32" y="567.79" width="5.82" height="14.55"/>
<rect class="h" x="671.32" y="624.94" width="5.82" height="14.55"/>
<rect class="h" x="612.73" y="578.18" width="13.51" height="5.19"/>
<rect class="h" x="612.73" y="623.9" width="13.51" height="6.23"/>
<rect class="h" x="658.44" y="578.18" width="12.88" height="5.19"/>
<rect class="h" x="658.44" y="623.9" width="12.88" height="6.23"/>
<path class="h" d="M626.23,583.38 L626.23,575.06 Q632.47,568.83 642.23,568.21 Q652.21,568.83 658.44,575.06 L658.44,583.38 Z"/>
<path class="h" d="M626.23,623.9 L626.23,632.21 Q632.47,638.86 642.23,639.48 Q652.21,638.86 658.44,632.21 L658.44,623.9 Z"/>
<rect class="w" x="610.65" y="583.38" width="64.42" height="40.52"/>
<path class="h" d="M648.05,583.38 L675.06,583.38 L675.06,623.9 L648.05,623.9 Q641.82,603.74 648.05,583.38 Z"/>
<rect class="w" x="605.45" y="580.68" width="5.19" height="46.34" rx="1.04"/>
<rect class="w" x="674.65" y="580.26" width="4.16" height="46.75" rx="1.25"/>
<rect class="w" x="649.09" y="587.95" width="29.71" height="5.82"/>
<rect class="w" x="649.09" y="613.92" width="29.71" height="5.82"/>
<polyline class="l" points="660.52,587.95 660.52,593.77"/>
<polyline class="l" points="660.52,613.92 660.52,619.74"/>
<rect class="l" x="678.81" y="585.45" width="4.57" height="11.43" rx="0.83"/>
<rect class="l" x="678.81" y="610.81" width="4.57" height="12.05" rx="0.83"/>
<polyline class="cl2" points="642.23,556.36 642.23,650.49"/>
<polyline class="l" points="591.95,603.74 625.19,603.74"/>
<polyline class="l" points="636.62,603.74 648.05,603.74"/>
<polyline class="l" points="658.44,603.74 690.65,603.74"/>
<text class="n" transform="translate(570.13,592.73) scale(0.88,1)">50</text>
<polyline class="l" points="570.13,594.39 579.48,594.39 626.23,614.55"/>
<text class="n" transform="translate(572.21,610.39) scale(0.88,1)">51</text>
<polyline class="l" points="571.17,612.47 580.52,612.47 607.53,629.09"/>
<text class="n" transform="translate(696.88,577.14) scale(0.88,1)">52</text>
<polyline class="l" points="706.23,579.64 695.84,579.64 683.38,589.61"/>
<text class="n" transform="translate(696.88,592.31) scale(0.88,1)">53</text>
<polyline class="l" points="706.23,594.18 695.84,594.18 679.22,604.16"/>
<text class="n" transform="translate(697.92,611.01) scale(0.88,1)">54</text>
<polyline class="l" points="706.23,613.51 696.88,613.51 683.38,617.66"/>
<text class="st" x="860.68" y="543.51" text-anchor="start">Е–Е</text>
<text class="n" transform="translate(828.68,582.99) scale(0.88,1)">55</text>
<polyline class="l" points="828.05,585.06 838.44,585.06 863.38,613.12"/>
<polyline class="g2" points="855.06,614.99 905.97,614.99"/>
<polyline class="l" points="855.06,616.86 905.97,616.86"/>
<polyline class="l" points="850.91,622.47 914.29,622.47"/>
<polyline class="l" points="855.06,627.66 905.97,627.66"/>
<polyline class="bo" points="855.06,630.16 904.94,630.16"/>
<polyline class="bi" points="855.06,630.16 904.94,630.16"/>
<polyline class="l" points="855.06,614.16 855.06,630.99"/>
<rect class="l" x="905.97" y="612.08" width="3.12" height="19.74"/>
<rect class="l" x="909.09" y="616.23" width="5.19" height="11.43"/>
<polygon class="h" points="907.01,554.52 913.25,555.97 904.94,610.0 897.66,614.16 897.66,592.34"/>
<polygon class="h" points="902.86,612.08 907.01,612.08 907.01,638.05 901.82,645.32 855.06,645.32 855.06,642.21 899.74,642.21 902.86,638.05"/>
<rect class="hd" x="888.31" y="637.64" width="5.19" height="4.57"/>
<polyline class="l" points="887.27,645.32 887.27,654.68"/>
<polyline class="l" points="891.43,645.32 891.43,654.68"/>
<polyline class="l" points="895.58,645.32 895.58,654.68"/>
<polyline class="l" points="897.66,645.32 897.66,654.68"/>
<path class="h" d="M880.0,654.68 L913.25,654.68 Q913.25,659.87 908.05,661.32 L872.73,667.14 Q861.3,665.06 858.18,657.17 L880.0,657.17 Z"/>
<text class="n" transform="translate(960.0,568.44) scale(0.88,1)">56</text>
<polyline class="l" points="969.35,570.52 958.96,570.52 904.94,608.96"/>
<text class="n" transform="translate(962.08,586.1) scale(0.88,1)">57</text>
<polyline class="l" points="971.43,588.81 959.58,588.81 912.21,617.27"/>
<polyline class="l" points="959.58,588.81 959.58,618.31 970.39,618.31"/>
<polyline class="l" points="959.58,603.77 970.39,603.77"/>
<text class="n" transform="translate(962.08,601.06) scale(0.88,1)">58</text>
<text class="n" transform="translate(962.08,616.23) scale(0.88,1)">59</text>
<text class="n" transform="translate(962.08,628.7) scale(0.88,1)">60</text>
<polyline class="l" points="970.39,631.4 958.96,631.4 904.94,637.64"/>
<polyline class="l" points="959.58,631.4 959.58,646.36 970.39,646.36"/>
<text class="n" transform="translate(961.66,644.29) scale(0.88,1)">61</text>
<ellipse class="dt" cx="1672.5" cy="14.0" rx="1.5" ry="1.8"/>
<ellipse class="dt" cx="1678.0" cy="10.9" rx="2.4" ry="1.5"/>
<ellipse class="dt" cx="1687.0" cy="14.0" rx="1.6" ry="1.7"/>
<ellipse class="dt" cx="1691.8" cy="14.0" rx="1.5" ry="1.7"/>
<ellipse class="dt" cx="1696.3" cy="14.0" rx="1.5" ry="1.7"/>
<text class="wm" transform="translate(132.4,679.7) rotate(-18.92) scale(1.0,1)" font-size="159">www.sinhron-too.kz</text>
</svg>
</body></html>
